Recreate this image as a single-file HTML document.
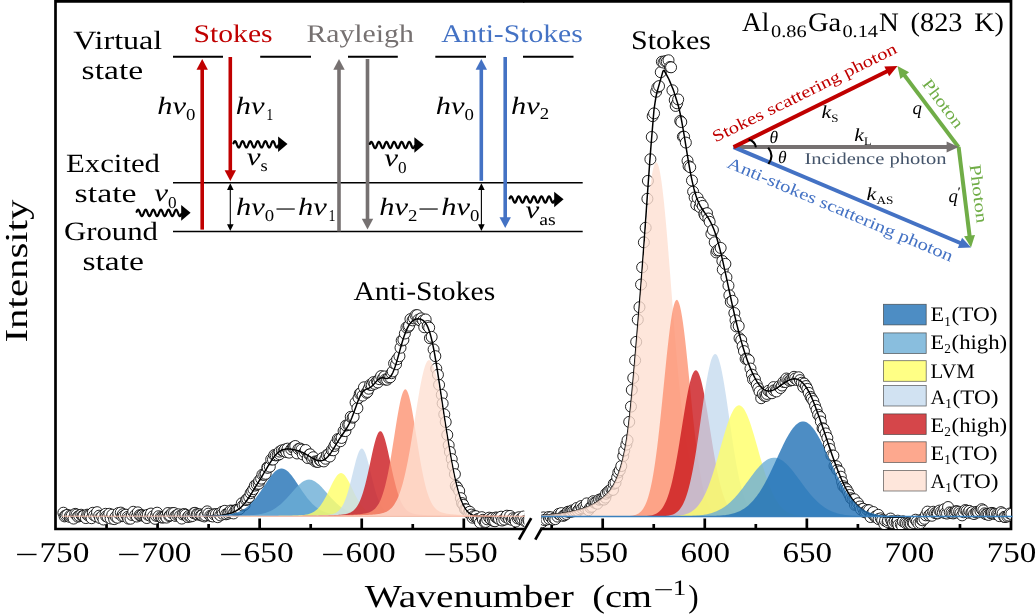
<!DOCTYPE html>
<html lang="en"><head><meta charset="utf-8"><title>Raman spectrum</title><style>html,body{margin:0;padding:0;background:#fff}svg{display:block}</style></head><body>
<svg width="1036" height="616" viewBox="0 0 1036 616" font-family='"Liberation Serif", "DejaVu Serif", serif' text-rendering="geometricPrecision" style="will-change:transform">
<rect x="0" y="0" width="1036" height="616" fill="#fff"/>
<defs>
<clipPath id="cl"><rect x="55.5" y="1.4" width="468.8" height="527.6"/></clipPath>
<clipPath id="cr"><rect x="541.1" y="1.4" width="469.9" height="527.6"/></clipPath>
</defs>
<g stroke="#000" stroke-width="2.7" fill="none">
<path d="M519,539.6 L531.2,518.2"/>
<path d="M535.3,539.6 L547.6,518"/>
</g>
<rect x="541.1" y="1.4" width="469.9" height="527.6" fill="#fff"/>
<g stroke="#000" stroke-width="2.7" fill="none" stroke-linecap="butt">
<path d="M524.3,529 L55.5,529 L55.5,1.4 L524.3,1.4"/>
<path d="M523.3,1.4 L1011,1.4 L1011,529 L541.1,529"/>
<path d="M106.54,529 V524"/>
<path d="M157.57,529 V518.5"/>
<path d="M208.61,529 V524"/>
<path d="M259.65,529 V518.5"/>
<path d="M310.69,529 V524"/>
<path d="M361.73,529 V518.5"/>
<path d="M412.76,529 V524"/>
<path d="M463.8,529 V518.5"/>
<path d="M514.84,529 V524"/>
<path d="M551.66,529 V524"/>
<path d="M602.7,529 V518.5"/>
<path d="M653.74,529 V524"/>
<path d="M704.77,529 V518.5"/>
<path d="M755.81,529 V524"/>
<path d="M806.85,529 V518.5"/>
<path d="M857.89,529 V524"/>
<path d="M908.92,529 V518.5"/>
<path d="M959.96,529 V524"/>
</g>
<g clip-path="url(#cl)">
<g fill="#fff" stroke="#000" stroke-width="0.85">
<circle cx="63.4" cy="512.72" r="5.5"/>
<circle cx="64.59" cy="516.39" r="5.5"/>
<circle cx="65.74" cy="515.54" r="5.5"/>
<circle cx="67.32" cy="514.9" r="5.5"/>
<circle cx="69.86" cy="516.95" r="5.5"/>
<circle cx="70.32" cy="515.6" r="5.5"/>
<circle cx="71.77" cy="515.6" r="5.5"/>
<circle cx="73.59" cy="518.59" r="5.5"/>
<circle cx="75.19" cy="513.87" r="5.5"/>
<circle cx="76.57" cy="514.58" r="5.5"/>
<circle cx="77.73" cy="516.67" r="5.5"/>
<circle cx="79.15" cy="515.9" r="5.5"/>
<circle cx="81.18" cy="514.74" r="5.5"/>
<circle cx="82.48" cy="516.05" r="5.5"/>
<circle cx="83.51" cy="516.02" r="5.5"/>
<circle cx="85.85" cy="518.08" r="5.5"/>
<circle cx="87.23" cy="514.66" r="5.5"/>
<circle cx="88.43" cy="515.4" r="5.5"/>
<circle cx="89.92" cy="515.14" r="5.5"/>
<circle cx="91.57" cy="518.21" r="5.5"/>
<circle cx="92.79" cy="512.8" r="5.5"/>
<circle cx="94.1" cy="515.35" r="5.5"/>
<circle cx="96.1" cy="516.27" r="5.5"/>
<circle cx="97.07" cy="512.16" r="5.5"/>
<circle cx="99.12" cy="515.69" r="5.5"/>
<circle cx="100.07" cy="518.09" r="5.5"/>
<circle cx="101.97" cy="516.31" r="5.5"/>
<circle cx="103.46" cy="519.52" r="5.5"/>
<circle cx="105.53" cy="513.83" r="5.5"/>
<circle cx="106.18" cy="516.33" r="5.5"/>
<circle cx="107.58" cy="516.89" r="5.5"/>
<circle cx="109.31" cy="513.79" r="5.5"/>
<circle cx="110.66" cy="518.44" r="5.5"/>
<circle cx="112.32" cy="514.71" r="5.5"/>
<circle cx="114.13" cy="519.14" r="5.5"/>
<circle cx="115.73" cy="516.75" r="5.5"/>
<circle cx="117.5" cy="517.68" r="5.5"/>
<circle cx="118.28" cy="513.13" r="5.5"/>
<circle cx="120.79" cy="512.61" r="5.5"/>
<circle cx="122.09" cy="516.19" r="5.5"/>
<circle cx="122.94" cy="514.19" r="5.5"/>
<circle cx="123.81" cy="515.93" r="5.5"/>
<circle cx="125.98" cy="514.66" r="5.5"/>
<circle cx="127.52" cy="516.91" r="5.5"/>
<circle cx="128.31" cy="518.54" r="5.5"/>
<circle cx="130.52" cy="518.7" r="5.5"/>
<circle cx="131.94" cy="514.97" r="5.5"/>
<circle cx="133.26" cy="511.79" r="5.5"/>
<circle cx="135.19" cy="515.16" r="5.5"/>
<circle cx="136.8" cy="516.52" r="5.5"/>
<circle cx="137.85" cy="512.36" r="5.5"/>
<circle cx="139.57" cy="515.21" r="5.5"/>
<circle cx="140.8" cy="515.44" r="5.5"/>
<circle cx="142.26" cy="515.18" r="5.5"/>
<circle cx="144.02" cy="515.84" r="5.5"/>
<circle cx="145.66" cy="516.14" r="5.5"/>
<circle cx="146.83" cy="518.05" r="5.5"/>
<circle cx="147.84" cy="514.75" r="5.5"/>
<circle cx="150.18" cy="515.76" r="5.5"/>
<circle cx="151.02" cy="513.56" r="5.5"/>
<circle cx="153.04" cy="516.23" r="5.5"/>
<circle cx="155.03" cy="518.84" r="5.5"/>
<circle cx="155.99" cy="515.76" r="5.5"/>
<circle cx="157.14" cy="512.69" r="5.5"/>
<circle cx="158.56" cy="516.24" r="5.5"/>
<circle cx="160.85" cy="517.11" r="5.5"/>
<circle cx="161.99" cy="517.62" r="5.5"/>
<circle cx="163.66" cy="517.38" r="5.5"/>
<circle cx="165.28" cy="516.1" r="5.5"/>
<circle cx="166.49" cy="517.6" r="5.5"/>
<circle cx="167.91" cy="513.03" r="5.5"/>
<circle cx="169.22" cy="516.06" r="5.5"/>
<circle cx="170.08" cy="515.39" r="5.5"/>
<circle cx="172.04" cy="513.12" r="5.5"/>
<circle cx="173.98" cy="513.01" r="5.5"/>
<circle cx="175.45" cy="515.93" r="5.5"/>
<circle cx="177.12" cy="515" r="5.5"/>
<circle cx="178.46" cy="514.31" r="5.5"/>
<circle cx="180.05" cy="515.89" r="5.5"/>
<circle cx="181.74" cy="518.58" r="5.5"/>
<circle cx="182.73" cy="514.43" r="5.5"/>
<circle cx="184.41" cy="514.01" r="5.5"/>
<circle cx="185.52" cy="514.82" r="5.5"/>
<circle cx="187.79" cy="517.09" r="5.5"/>
<circle cx="189.01" cy="515.84" r="5.5"/>
<circle cx="190.65" cy="516.5" r="5.5"/>
<circle cx="192.46" cy="515.99" r="5.5"/>
<circle cx="193.82" cy="513.25" r="5.5"/>
<circle cx="194.98" cy="512.83" r="5.5"/>
<circle cx="196.74" cy="514.28" r="5.5"/>
<circle cx="197.57" cy="514.46" r="5.5"/>
<circle cx="199.63" cy="514.22" r="5.5"/>
<circle cx="201.04" cy="515.36" r="5.5"/>
<circle cx="202.01" cy="515.44" r="5.5"/>
<circle cx="204.4" cy="516.43" r="5.5"/>
<circle cx="205.29" cy="515.34" r="5.5"/>
<circle cx="207.2" cy="511.35" r="5.5"/>
<circle cx="208.37" cy="513.68" r="5.5"/>
<circle cx="210.3" cy="515.7" r="5.5"/>
<circle cx="211.89" cy="515.87" r="5.5"/>
<circle cx="212.75" cy="516.47" r="5.5"/>
<circle cx="214.04" cy="514.28" r="5.5"/>
<circle cx="215.96" cy="514.16" r="5.5"/>
<circle cx="217.75" cy="517.19" r="5.5"/>
<circle cx="218.89" cy="513.75" r="5.5"/>
<circle cx="220.32" cy="515.4" r="5.5"/>
<circle cx="222.15" cy="511.79" r="5.5"/>
<circle cx="222.67" cy="513.75" r="5.5"/>
<circle cx="224.8" cy="510.82" r="5.5"/>
<circle cx="226.08" cy="514.27" r="5.5"/>
<circle cx="228.09" cy="513.66" r="5.5"/>
<circle cx="229.28" cy="512.27" r="5.5"/>
<circle cx="230.67" cy="510.54" r="5.5"/>
<circle cx="232.39" cy="510.89" r="5.5"/>
<circle cx="233.56" cy="513.43" r="5.5"/>
<circle cx="235.5" cy="510.3" r="5.5"/>
<circle cx="236.8" cy="509.78" r="5.5"/>
<circle cx="238.39" cy="509.62" r="5.5"/>
<circle cx="239.78" cy="508.89" r="5.5"/>
<circle cx="241.77" cy="503.33" r="5.5"/>
<circle cx="242.97" cy="505.59" r="5.5"/>
<circle cx="244.66" cy="504.68" r="5.5"/>
<circle cx="246.14" cy="500.09" r="5.5"/>
<circle cx="247.26" cy="498.92" r="5.5"/>
<circle cx="249.17" cy="497.08" r="5.5"/>
<circle cx="250.6" cy="493.19" r="5.5"/>
<circle cx="252.09" cy="491.34" r="5.5"/>
<circle cx="253.38" cy="489.16" r="5.5"/>
<circle cx="254.87" cy="485.57" r="5.5"/>
<circle cx="256.74" cy="484.43" r="5.5"/>
<circle cx="258.65" cy="483.73" r="5.5"/>
<circle cx="259.25" cy="480.79" r="5.5"/>
<circle cx="261.16" cy="478.64" r="5.5"/>
<circle cx="262.39" cy="474.7" r="5.5"/>
<circle cx="264.24" cy="474.77" r="5.5"/>
<circle cx="265.63" cy="473.78" r="5.5"/>
<circle cx="267.32" cy="467.36" r="5.5"/>
<circle cx="267.66" cy="467.79" r="5.5"/>
<circle cx="269.82" cy="466.65" r="5.5"/>
<circle cx="271.2" cy="459.48" r="5.5"/>
<circle cx="272.97" cy="459.57" r="5.5"/>
<circle cx="274.28" cy="455.02" r="5.5"/>
<circle cx="275.81" cy="455.43" r="5.5"/>
<circle cx="277.7" cy="455.17" r="5.5"/>
<circle cx="279.57" cy="454.18" r="5.5"/>
<circle cx="279.65" cy="451.62" r="5.5"/>
<circle cx="281.91" cy="450.35" r="5.5"/>
<circle cx="283.59" cy="451.02" r="5.5"/>
<circle cx="285" cy="449.51" r="5.5"/>
<circle cx="286.4" cy="452.07" r="5.5"/>
<circle cx="287.59" cy="448.65" r="5.5"/>
<circle cx="289.22" cy="452.64" r="5.5"/>
<circle cx="291.22" cy="449.3" r="5.5"/>
<circle cx="292.82" cy="447.57" r="5.5"/>
<circle cx="294.03" cy="446.99" r="5.5"/>
<circle cx="295.25" cy="445.99" r="5.5"/>
<circle cx="297.03" cy="453.47" r="5.5"/>
<circle cx="298.43" cy="448.95" r="5.5"/>
<circle cx="300.16" cy="448.53" r="5.5"/>
<circle cx="301.54" cy="449.64" r="5.5"/>
<circle cx="302.81" cy="454.43" r="5.5"/>
<circle cx="304.56" cy="452.3" r="5.5"/>
<circle cx="305.65" cy="450.02" r="5.5"/>
<circle cx="307.75" cy="458.05" r="5.5"/>
<circle cx="309.35" cy="454.75" r="5.5"/>
<circle cx="310.15" cy="454.32" r="5.5"/>
<circle cx="312.13" cy="459.05" r="5.5"/>
<circle cx="313.2" cy="457.21" r="5.5"/>
<circle cx="315.32" cy="461.44" r="5.5"/>
<circle cx="316.77" cy="461.52" r="5.5"/>
<circle cx="317.93" cy="461.97" r="5.5"/>
<circle cx="319.8" cy="460.08" r="5.5"/>
<circle cx="320.87" cy="460.63" r="5.5"/>
<circle cx="322.31" cy="458.1" r="5.5"/>
<circle cx="323.83" cy="461.42" r="5.5"/>
<circle cx="325.46" cy="458.74" r="5.5"/>
<circle cx="326.9" cy="455.14" r="5.5"/>
<circle cx="328.55" cy="454.38" r="5.5"/>
<circle cx="329.82" cy="456.52" r="5.5"/>
<circle cx="331.73" cy="450.14" r="5.5"/>
<circle cx="333.31" cy="450.3" r="5.5"/>
<circle cx="334.35" cy="445.97" r="5.5"/>
<circle cx="335.57" cy="443.65" r="5.5"/>
<circle cx="337.72" cy="439.1" r="5.5"/>
<circle cx="339.34" cy="439.12" r="5.5"/>
<circle cx="340.45" cy="441.24" r="5.5"/>
<circle cx="341.61" cy="437.95" r="5.5"/>
<circle cx="343.58" cy="431.01" r="5.5"/>
<circle cx="345.46" cy="431.08" r="5.5"/>
<circle cx="345.94" cy="425.53" r="5.5"/>
<circle cx="348.14" cy="424.95" r="5.5"/>
<circle cx="349.41" cy="424.46" r="5.5"/>
<circle cx="350.74" cy="416.83" r="5.5"/>
<circle cx="352.65" cy="417.69" r="5.5"/>
<circle cx="353.61" cy="416.76" r="5.5"/>
<circle cx="355.59" cy="402.52" r="5.5"/>
<circle cx="357.39" cy="408.19" r="5.5"/>
<circle cx="358.55" cy="397.91" r="5.5"/>
<circle cx="359.74" cy="393.68" r="5.5"/>
<circle cx="360.97" cy="392.91" r="5.5"/>
<circle cx="362.62" cy="395.6" r="5.5"/>
<circle cx="363.95" cy="387.29" r="5.5"/>
<circle cx="366.48" cy="392.79" r="5.5"/>
<circle cx="367.43" cy="391.91" r="5.5"/>
<circle cx="368.69" cy="388.71" r="5.5"/>
<circle cx="370.11" cy="384.85" r="5.5"/>
<circle cx="371.68" cy="384.96" r="5.5"/>
<circle cx="373.4" cy="382.16" r="5.5"/>
<circle cx="374.62" cy="383.8" r="5.5"/>
<circle cx="377" cy="381.4" r="5.5"/>
<circle cx="377.78" cy="382.46" r="5.5"/>
<circle cx="379.27" cy="379.15" r="5.5"/>
<circle cx="381.09" cy="376.09" r="5.5"/>
<circle cx="382.94" cy="378.32" r="5.5"/>
<circle cx="384.4" cy="376.45" r="5.5"/>
<circle cx="385.35" cy="379.56" r="5.5"/>
<circle cx="387.08" cy="379.73" r="5.5"/>
<circle cx="388.54" cy="377.69" r="5.5"/>
<circle cx="390.16" cy="377.25" r="5.5"/>
<circle cx="391.58" cy="373.2" r="5.5"/>
<circle cx="392.72" cy="371.44" r="5.5"/>
<circle cx="394.12" cy="363.39" r="5.5"/>
<circle cx="396.05" cy="364.25" r="5.5"/>
<circle cx="397.14" cy="359.22" r="5.5"/>
<circle cx="399.41" cy="356.17" r="5.5"/>
<circle cx="400.51" cy="347.74" r="5.5"/>
<circle cx="401.69" cy="340.57" r="5.5"/>
<circle cx="403.4" cy="339.88" r="5.5"/>
<circle cx="404.85" cy="333.51" r="5.5"/>
<circle cx="406.46" cy="327.48" r="5.5"/>
<circle cx="408.28" cy="326.93" r="5.5"/>
<circle cx="409.07" cy="325.64" r="5.5"/>
<circle cx="410.44" cy="319.14" r="5.5"/>
<circle cx="412.6" cy="320.36" r="5.5"/>
<circle cx="413.95" cy="318.4" r="5.5"/>
<circle cx="415.55" cy="315.34" r="5.5"/>
<circle cx="417.13" cy="315.08" r="5.5"/>
<circle cx="418.45" cy="319.62" r="5.5"/>
<circle cx="420.24" cy="320.37" r="5.5"/>
<circle cx="421.23" cy="318.36" r="5.5"/>
<circle cx="423.02" cy="320.49" r="5.5"/>
<circle cx="424.25" cy="327.22" r="5.5"/>
<circle cx="425.66" cy="319.46" r="5.5"/>
<circle cx="427.68" cy="326.06" r="5.5"/>
<circle cx="429.17" cy="327.64" r="5.5"/>
<circle cx="429.92" cy="338.17" r="5.5"/>
<circle cx="431.66" cy="336.89" r="5.5"/>
<circle cx="433.59" cy="349.45" r="5.5"/>
<circle cx="435.32" cy="356.15" r="5.5"/>
<circle cx="436.3" cy="368.64" r="5.5"/>
<circle cx="437.94" cy="374.77" r="5.5"/>
<circle cx="439.08" cy="384.87" r="5.5"/>
<circle cx="441.75" cy="394.86" r="5.5"/>
<circle cx="442.64" cy="403.43" r="5.5"/>
<circle cx="444.27" cy="414.38" r="5.5"/>
<circle cx="445.7" cy="422.03" r="5.5"/>
<circle cx="447.28" cy="434.91" r="5.5"/>
<circle cx="448.68" cy="445.27" r="5.5"/>
<circle cx="449.9" cy="451.99" r="5.5"/>
<circle cx="451.72" cy="459.09" r="5.5"/>
<circle cx="453.02" cy="465.84" r="5.5"/>
<circle cx="454.89" cy="474.13" r="5.5"/>
<circle cx="455.78" cy="485.87" r="5.5"/>
<circle cx="457.34" cy="487.73" r="5.5"/>
<circle cx="459.2" cy="490.99" r="5.5"/>
<circle cx="460.88" cy="498.14" r="5.5"/>
<circle cx="462.04" cy="503.08" r="5.5"/>
<circle cx="463.29" cy="504.91" r="5.5"/>
<circle cx="464.96" cy="509.13" r="5.5"/>
<circle cx="466.35" cy="509.47" r="5.5"/>
<circle cx="468.57" cy="512.56" r="5.5"/>
<circle cx="469.77" cy="511.76" r="5.5"/>
<circle cx="471.38" cy="514.6" r="5.5"/>
<circle cx="472.59" cy="517.69" r="5.5"/>
<circle cx="473.83" cy="516.19" r="5.5"/>
<circle cx="475.85" cy="516.16" r="5.5"/>
<circle cx="477.5" cy="519.12" r="5.5"/>
<circle cx="478.67" cy="519.14" r="5.5"/>
<circle cx="479.99" cy="522.55" r="5.5"/>
<circle cx="481.82" cy="517.17" r="5.5"/>
<circle cx="482.89" cy="519.82" r="5.5"/>
<circle cx="484.73" cy="522.52" r="5.5"/>
<circle cx="485.79" cy="521.96" r="5.5"/>
<circle cx="487.21" cy="519.34" r="5.5"/>
<circle cx="489.17" cy="517.66" r="5.5"/>
<circle cx="490.6" cy="519.13" r="5.5"/>
<circle cx="492.57" cy="518.17" r="5.5"/>
<circle cx="493.42" cy="520.87" r="5.5"/>
<circle cx="495.01" cy="521.27" r="5.5"/>
<circle cx="496.16" cy="517.43" r="5.5"/>
<circle cx="497.44" cy="518.09" r="5.5"/>
<circle cx="498.97" cy="518.97" r="5.5"/>
<circle cx="501.14" cy="516.7" r="5.5"/>
<circle cx="502.15" cy="520.52" r="5.5"/>
<circle cx="504.34" cy="519.6" r="5.5"/>
<circle cx="505.93" cy="517.1" r="5.5"/>
<circle cx="506.91" cy="515.69" r="5.5"/>
<circle cx="509" cy="518.82" r="5.5"/>
<circle cx="510.07" cy="515.94" r="5.5"/>
<circle cx="511.84" cy="519.85" r="5.5"/>
<circle cx="512.93" cy="518.25" r="5.5"/>
<circle cx="514.79" cy="519.11" r="5.5"/>
<circle cx="515.72" cy="521.55" r="5.5"/>
<circle cx="517.69" cy="518.38" r="5.5"/>
<circle cx="518.86" cy="517.24" r="5.5"/>
<circle cx="520.46" cy="519.11" r="5.5"/>
<circle cx="522.19" cy="519" r="5.5"/>
<circle cx="523.55" cy="516.51" r="5.5"/>
<circle cx="524.98" cy="521.07" r="5.5"/>
<circle cx="526.72" cy="521.53" r="5.5"/>
<circle cx="528.24" cy="520.1" r="5.5"/>
<circle cx="529.08" cy="521.06" r="5.5"/>
</g>
<path d="M205,516.25 L206,516.23 L207,516.2 L208,516.17 L209,516.14 L210,516.1 L211,516.06 L212,516.02 L213,515.97 L214,515.92 L215,515.86 L216,515.79 L217,515.71 L218,515.62 L219,515.51 L220,515.4 L221,515.27 L222,515.12 L223,514.96 L224,514.78 L225,514.58 L226,514.37 L227,514.14 L228,513.88 L229,513.6 L230,513.3 L231,512.98 L232,512.62 L233,512.23 L234,511.81 L235,511.34 L236,510.83 L237,510.26 L238,509.62 L239,508.91 L240,508.13 L241,507.26 L242,506.29 L243,505.24 L244,504.1 L245,502.88 L246,501.57 L247,500.19 L248,498.75 L249,497.26 L250,495.72 L251,494.16 L252,492.56 L253,490.95 L254,489.33 L255,487.71 L256,486.09 L257,484.46 L258,482.83 L259,481.2 L260,479.56 L261,477.92 L262,476.26 L263,474.59 L264,472.9 L265,471.22 L266,469.53 L267,467.84 L268,466.17 L269,464.51 L270,462.9 L271,461.32 L272,459.81 L273,458.37 L274,457.01 L275,455.75 L276,454.59 L277,453.55 L278,452.62 L279,451.81 L280,451.11 L281,450.53 L282,450.06 L283,449.68 L284,449.4 L285,449.2 L286,449.07 L287,449 L288,448.99 L289,449.01 L290,449.08 L291,449.18 L292,449.31 L293,449.47 L294,449.66 L295,449.88 L296,450.13 L297,450.41 L298,450.72 L299,451.06 L300,451.43 L301,451.83 L302,452.27 L303,452.73 L304,453.23 L305,453.75 L306,454.3 L307,454.87 L308,455.46 L309,456.06 L310,456.67 L311,457.28 L312,457.88 L313,458.46 L314,459 L315,459.49 L316,459.93 L317,460.29 L318,460.56 L319,460.74 L320,460.8 L321,460.74 L322,460.55 L323,460.22 L324,459.75 L325,459.13 L326,458.37 L327,457.47 L328,456.44 L329,455.27 L330,453.99 L331,452.6 L332,451.12 L333,449.56 L334,447.94 L335,446.28 L336,444.61 L337,442.94 L338,441.29 L339,439.68 L340,438.12 L341,436.61 L342,435.14 L343,433.7 L344,432.26 L345,430.79 L346,429.26 L347,427.64 L348,425.89 L349,424 L350,421.94 L351,419.71 L352,417.31 L353,414.75 L354,412.07 L355,409.3 L356,406.5 L357,403.73 L358,401.07 L359,398.59 L360,396.36 L361,394.43 L362,392.83 L363,391.56 L364,390.6 L365,389.89 L366,389.35 L367,388.92 L368,388.51 L369,388.06 L370,387.52 L371,386.86 L372,386.05 L373,385.1 L374,384.05 L375,382.93 L376,381.79 L377,380.71 L378,379.74 L379,378.93 L380,378.34 L381,377.97 L382,377.83 L383,377.86 L384,378.02 L385,378.23 L386,378.4 L387,378.45 L388,378.28 L389,377.83 L390,377.03 L391,375.84 L392,374.24 L393,372.22 L394,369.8 L395,367.03 L396,363.94 L397,360.62 L398,357.12 L399,353.52 L400,349.9 L401,346.32 L402,342.86 L403,339.57 L404,336.49 L405,333.66 L406,331.11 L407,328.84 L408,326.85 L409,325.13 L410,323.66 L411,322.42 L412,321.39 L413,320.57 L414,319.92 L415,319.44 L416,319.1 L417,318.91 L418,318.84 L419,318.88 L420,319.05 L421,319.34 L422,319.77 L423,320.38 L424,321.2 L425,322.27 L426,323.65 L427,325.39 L428,327.55 L429,330.16 L430,333.25 L431,336.85 L432,340.96 L433,345.57 L434,350.64 L435,356.14 L436,362.01 L437,368.19 L438,374.62 L439,381.22 L440,387.93 L441,394.69 L442,401.45 L443,408.17 L444,414.82 L445,421.38 L446,427.82 L447,434.14 L448,440.33 L449,446.37 L450,452.24 L451,457.93 L452,463.41 L453,468.66 L454,473.64 L455,478.34 L456,482.73 L457,486.79 L458,490.53 L459,493.94 L460,497.02 L461,499.8 L462,502.28 L463,504.49 L464,506.43 L465,508.13 L466,509.61 L467,510.88 L468,511.95 L469,512.86 L470,513.62 L471,514.23 L472,514.74 L473,515.14 L474,515.46 L475,515.72 L476,515.92 L477,516.07 L478,516.2 L479,516.3 L480,516.38 L481,516.45 L482,516.5 L483,516.55 L484,516.58 L485,516.61 L486,516.64 L487,516.65 L488,516.67 L489,516.68 L490,516.68 L491,516.68 L492,516.68" fill="none" stroke="#000" stroke-width="1.5" stroke-linejoin="round"/>
<path d="M90,516.18 L91,516.18 L92,516.18 L93,516.18 L94,516.17 L95,516.17 L96,516.17 L97,516.17 L98,516.17 L99,516.17 L100,516.17 L101,516.16 L102,516.16 L103,516.16 L104,516.16 L105,516.16 L106,516.16 L107,516.15 L108,516.15 L109,516.15 L110,516.15 L111,516.15 L112,516.15 L113,516.14 L114,516.14 L115,516.14 L116,516.14 L117,516.14 L118,516.14 L119,516.13 L120,516.13 L121,516.13 L122,516.13 L123,516.12 L124,516.12 L125,516.12 L126,516.12 L127,516.12 L128,516.11 L129,516.11 L130,516.11 L131,516.11 L132,516.1 L133,516.1 L134,516.1 L135,516.1 L136,516.09 L137,516.09 L138,516.09 L139,516.08 L140,516.08 L141,516.08 L142,516.07 L143,516.07 L144,516.07 L145,516.07 L146,516.06 L147,516.06 L148,516.05 L149,516.05 L150,516.05 L151,516.04 L152,516.04 L153,516.04 L154,516.03 L155,516.03 L156,516.02 L157,516.02 L158,516.01 L159,516.01 L160,516.01 L161,516 L162,516 L163,515.99 L164,515.99 L165,515.98 L166,515.98 L167,515.97 L168,515.96 L169,515.96 L170,515.95 L171,515.95 L172,515.94 L173,515.93 L174,515.93 L175,515.92 L176,515.91 L177,515.91 L178,515.9 L179,515.89 L180,515.88 L181,515.88 L182,515.87 L183,515.86 L184,515.85 L185,515.84 L186,515.83 L187,515.82 L188,515.81 L189,515.8 L190,515.79 L191,515.78 L192,515.77 L193,515.76 L194,515.75 L195,515.74 L196,515.72 L197,515.71 L198,515.7 L199,515.68 L200,515.67 L201,515.65 L202,515.64 L203,515.62 L204,515.6 L205,515.58 L206,515.56 L207,515.54 L208,515.52 L209,515.5 L210,515.48 L211,515.45 L212,515.42 L213,515.39 L214,515.36 L215,515.33 L216,515.29 L217,515.25 L218,515.2 L219,515.16 L220,515.1 L221,515.04 L222,514.98 L223,514.9 L224,514.82 L225,514.73 L226,514.63 L227,514.52 L228,514.4 L229,514.26 L230,514.1 L231,513.93 L232,513.74 L233,513.52 L234,513.29 L235,513.03 L236,512.74 L237,512.42 L238,512.06 L239,511.67 L240,511.25 L241,510.78 L242,510.27 L243,509.72 L244,509.12 L245,508.46 L246,507.76 L247,507 L248,506.19 L249,505.32 L250,504.4 L251,503.41 L252,502.37 L253,501.28 L254,500.12 L255,498.92 L256,497.66 L257,496.35 L258,494.99 L259,493.6 L260,492.16 L261,490.7 L262,489.21 L263,487.7 L264,486.19 L265,484.67 L266,483.16 L267,481.66 L268,480.2 L269,478.77 L270,477.39 L271,476.06 L272,474.81 L273,473.65 L274,472.57 L275,471.6 L276,470.75 L277,470.02 L278,469.43 L279,468.98 L280,468.67 L281,468.52 L282,468.52 L283,468.67 L284,468.98 L285,469.43 L286,470.02 L287,470.75 L288,471.6 L289,472.57 L290,473.65 L291,474.81 L292,476.06 L293,477.39 L294,478.77 L295,480.2 L296,481.66 L297,483.16 L298,484.67 L299,486.19 L300,487.7 L301,489.21 L302,490.7 L303,492.16 L304,493.6 L305,494.99 L306,496.35 L307,497.66 L308,498.92 L309,500.12 L310,501.28 L311,502.37 L312,503.41 L313,504.4 L314,505.32 L315,506.19 L316,507 L317,507.76 L318,508.46 L319,509.12 L320,509.72 L321,510.27 L322,510.78 L323,511.25 L324,511.67 L325,512.06 L326,512.42 L327,512.74 L328,513.03 L329,513.29 L330,513.52 L331,513.74 L332,513.93 L333,514.1 L334,514.26 L335,514.4 L336,514.52 L337,514.63 L338,514.73 L339,514.82 L340,514.9 L341,514.98 L342,515.04 L343,515.1 L344,515.16 L345,515.2 L346,515.25 L347,515.29 L348,515.33 L349,515.36 L350,515.39 L351,515.42 L352,515.45 L353,515.48 L354,515.5 L355,515.52 L356,515.54 L357,515.56 L358,515.58 L359,515.6 L360,515.62 L361,515.64 L362,515.65 L363,515.67 L364,515.68 L365,515.7 L366,515.71 L367,515.72 L368,515.74 L369,515.75 L370,515.76 L371,515.77 L372,515.78 L373,515.79 L374,515.8 L375,515.81 L376,515.82 L377,515.83 L378,515.84 L379,515.85 L380,515.86 L381,515.87 L382,515.88 L383,515.88 L384,515.89 L385,515.9 L386,515.91 L387,515.91 L388,515.92 L389,515.93 L390,515.93 L391,515.94 L392,515.95 L393,515.95 L394,515.96 L395,515.96 L396,515.97 L397,515.98 L398,515.98 L399,515.99 L400,515.99 L401,516 L402,516 L403,516.01 L404,516.01 L405,516.01 L406,516.02 L407,516.02 L408,516.03 L409,516.03 L410,516.04 L411,516.04 L412,516.04 L413,516.05 L414,516.05 L415,516.05 L416,516.06 L417,516.06 L418,516.07 L419,516.07 L420,516.07 L421,516.07 L422,516.08 L423,516.08 L424,516.08 L425,516.09 L426,516.09 L427,516.09 L428,516.1 L429,516.1 L430,516.1 L431,516.1 L432,516.11 L433,516.11 L434,516.11 L435,516.11 L436,516.12 L437,516.12 L438,516.12 L439,516.12 L440,516.12 L441,516.13 L442,516.13 L443,516.13 L444,516.13 L445,516.14 L446,516.14 L447,516.14 L448,516.14 L449,516.14 L450,516.14 L451,516.15 L452,516.15 L453,516.15 L454,516.15 L455,516.15 L456,516.15 L457,516.16 L458,516.16 L459,516.16 L460,516.16 L461,516.16 L462,516.16 L463,516.17 L464,516.17 L465,516.17 L466,516.17 L467,516.17 L468,516.17 L469,516.17 L470,516.18 L471,516.18 L472,516.18 L473,516.18 L473,516.3 L90,516.3 Z" fill="#2171b5" fill-opacity="0.8"/>
<path d="M138,516.18 L139,516.18 L140,516.18 L141,516.17 L142,516.17 L143,516.17 L144,516.17 L145,516.17 L146,516.17 L147,516.17 L148,516.16 L149,516.16 L150,516.16 L151,516.16 L152,516.16 L153,516.16 L154,516.15 L155,516.15 L156,516.15 L157,516.15 L158,516.15 L159,516.14 L160,516.14 L161,516.14 L162,516.14 L163,516.14 L164,516.13 L165,516.13 L166,516.13 L167,516.13 L168,516.12 L169,516.12 L170,516.12 L171,516.12 L172,516.11 L173,516.11 L174,516.11 L175,516.11 L176,516.1 L177,516.1 L178,516.1 L179,516.09 L180,516.09 L181,516.09 L182,516.08 L183,516.08 L184,516.08 L185,516.07 L186,516.07 L187,516.07 L188,516.06 L189,516.06 L190,516.05 L191,516.05 L192,516.05 L193,516.04 L194,516.04 L195,516.03 L196,516.03 L197,516.02 L198,516.02 L199,516.01 L200,516.01 L201,516 L202,516 L203,515.99 L204,515.99 L205,515.98 L206,515.98 L207,515.97 L208,515.96 L209,515.96 L210,515.95 L211,515.94 L212,515.94 L213,515.93 L214,515.92 L215,515.92 L216,515.91 L217,515.9 L218,515.89 L219,515.88 L220,515.87 L221,515.86 L222,515.85 L223,515.84 L224,515.83 L225,515.82 L226,515.81 L227,515.8 L228,515.79 L229,515.78 L230,515.76 L231,515.75 L232,515.73 L233,515.72 L234,515.7 L235,515.69 L236,515.67 L237,515.65 L238,515.63 L239,515.61 L240,515.58 L241,515.56 L242,515.53 L243,515.5 L244,515.47 L245,515.43 L246,515.39 L247,515.35 L248,515.3 L249,515.25 L250,515.19 L251,515.12 L252,515.05 L253,514.97 L254,514.88 L255,514.78 L256,514.67 L257,514.55 L258,514.41 L259,514.26 L260,514.09 L261,513.9 L262,513.7 L263,513.47 L264,513.22 L265,512.95 L266,512.65 L267,512.32 L268,511.96 L269,511.57 L270,511.14 L271,510.68 L272,510.18 L273,509.65 L274,509.07 L275,508.46 L276,507.8 L277,507.1 L278,506.36 L279,505.57 L280,504.75 L281,503.88 L282,502.97 L283,502.03 L284,501.05 L285,500.03 L286,498.99 L287,497.91 L288,496.81 L289,495.7 L290,494.57 L291,493.43 L292,492.29 L293,491.15 L294,490.03 L295,488.92 L296,487.83 L297,486.78 L298,485.77 L299,484.81 L300,483.91 L301,483.07 L302,482.31 L303,481.62 L304,481.03 L305,480.53 L306,480.14 L307,479.85 L308,479.67 L309,479.6 L310,479.65 L311,479.8 L312,480.07 L313,480.45 L314,480.92 L315,481.5 L316,482.16 L317,482.91 L318,483.73 L319,484.62 L320,485.57 L321,486.58 L322,487.62 L323,488.7 L324,489.8 L325,490.93 L326,492.06 L327,493.2 L328,494.34 L329,495.47 L330,496.59 L331,497.69 L332,498.77 L333,499.82 L334,500.85 L335,501.84 L336,502.79 L337,503.7 L338,504.58 L339,505.41 L340,506.21 L341,506.96 L342,507.66 L343,508.33 L344,508.95 L345,509.54 L346,510.08 L347,510.58 L348,511.05 L349,511.48 L350,511.88 L351,512.25 L352,512.58 L353,512.89 L354,513.17 L355,513.42 L356,513.66 L357,513.87 L358,514.05 L359,514.23 L360,514.38 L361,514.52 L362,514.65 L363,514.76 L364,514.86 L365,514.95 L366,515.03 L367,515.11 L368,515.17 L369,515.23 L370,515.29 L371,515.34 L372,515.38 L373,515.42 L374,515.46 L375,515.49 L376,515.52 L377,515.55 L378,515.58 L379,515.6 L380,515.62 L381,515.64 L382,515.66 L383,515.68 L384,515.7 L385,515.72 L386,515.73 L387,515.75 L388,515.76 L389,515.77 L390,515.79 L391,515.8 L392,515.81 L393,515.82 L394,515.83 L395,515.84 L396,515.85 L397,515.86 L398,515.87 L399,515.88 L400,515.89 L401,515.9 L402,515.91 L403,515.91 L404,515.92 L405,515.93 L406,515.94 L407,515.94 L408,515.95 L409,515.96 L410,515.96 L411,515.97 L412,515.98 L413,515.98 L414,515.99 L415,515.99 L416,516 L417,516 L418,516.01 L419,516.01 L420,516.02 L421,516.02 L422,516.03 L423,516.03 L424,516.04 L425,516.04 L426,516.05 L427,516.05 L428,516.05 L429,516.06 L430,516.06 L431,516.07 L432,516.07 L433,516.07 L434,516.08 L435,516.08 L436,516.08 L437,516.09 L438,516.09 L439,516.09 L440,516.1 L441,516.1 L442,516.1 L443,516.1 L444,516.11 L445,516.11 L446,516.11 L447,516.12 L448,516.12 L449,516.12 L450,516.12 L451,516.13 L452,516.13 L453,516.13 L454,516.13 L455,516.13 L456,516.14 L457,516.14 L458,516.14 L459,516.14 L460,516.15 L461,516.15 L462,516.15 L463,516.15 L464,516.15 L465,516.15 L466,516.16 L467,516.16 L468,516.16 L469,516.16 L470,516.16 L471,516.17 L472,516.17 L473,516.17 L474,516.17 L475,516.17 L476,516.17 L477,516.17 L478,516.18 L479,516.18 L480,516.18 L480,516.3 L138,516.3 Z" fill="#6baed6" fill-opacity="0.8"/>
<path d="M222,516.18 L223,516.18 L224,516.18 L225,516.17 L226,516.17 L227,516.17 L228,516.17 L229,516.16 L230,516.16 L231,516.16 L232,516.16 L233,516.15 L234,516.15 L235,516.15 L236,516.15 L237,516.14 L238,516.14 L239,516.14 L240,516.13 L241,516.13 L242,516.13 L243,516.12 L244,516.12 L245,516.12 L246,516.11 L247,516.11 L248,516.11 L249,516.1 L250,516.1 L251,516.09 L252,516.09 L253,516.08 L254,516.08 L255,516.07 L256,516.07 L257,516.06 L258,516.06 L259,516.05 L260,516.04 L261,516.04 L262,516.03 L263,516.03 L264,516.02 L265,516.01 L266,516 L267,516 L268,515.99 L269,515.98 L270,515.97 L271,515.96 L272,515.95 L273,515.94 L274,515.93 L275,515.92 L276,515.91 L277,515.9 L278,515.89 L279,515.87 L280,515.86 L281,515.85 L282,515.83 L283,515.82 L284,515.8 L285,515.78 L286,515.76 L287,515.75 L288,515.72 L289,515.7 L290,515.68 L291,515.66 L292,515.63 L293,515.6 L294,515.57 L295,515.53 L296,515.49 L297,515.45 L298,515.4 L299,515.35 L300,515.28 L301,515.21 L302,515.12 L303,515.02 L304,514.9 L305,514.76 L306,514.6 L307,514.4 L308,514.17 L309,513.9 L310,513.59 L311,513.21 L312,512.78 L313,512.27 L314,511.69 L315,511.03 L316,510.26 L317,509.4 L318,508.43 L319,507.34 L320,506.13 L321,504.81 L322,503.36 L323,501.79 L324,500.1 L325,498.31 L326,496.42 L327,494.44 L328,492.4 L329,490.32 L330,488.22 L331,486.12 L332,484.07 L333,482.08 L334,480.21 L335,478.48 L336,476.94 L337,475.61 L338,474.54 L339,473.75 L340,473.26 L341,473.1 L342,473.26 L343,473.75 L344,474.54 L345,475.61 L346,476.94 L347,478.48 L348,480.21 L349,482.08 L350,484.07 L351,486.12 L352,488.22 L353,490.32 L354,492.4 L355,494.44 L356,496.42 L357,498.31 L358,500.1 L359,501.79 L360,503.36 L361,504.81 L362,506.13 L363,507.34 L364,508.43 L365,509.4 L366,510.26 L367,511.03 L368,511.69 L369,512.27 L370,512.78 L371,513.21 L372,513.59 L373,513.9 L374,514.17 L375,514.4 L376,514.6 L377,514.76 L378,514.9 L379,515.02 L380,515.12 L381,515.21 L382,515.28 L383,515.35 L384,515.4 L385,515.45 L386,515.49 L387,515.53 L388,515.57 L389,515.6 L390,515.63 L391,515.66 L392,515.68 L393,515.7 L394,515.72 L395,515.75 L396,515.76 L397,515.78 L398,515.8 L399,515.82 L400,515.83 L401,515.85 L402,515.86 L403,515.87 L404,515.89 L405,515.9 L406,515.91 L407,515.92 L408,515.93 L409,515.94 L410,515.95 L411,515.96 L412,515.97 L413,515.98 L414,515.99 L415,516 L416,516 L417,516.01 L418,516.02 L419,516.03 L420,516.03 L421,516.04 L422,516.04 L423,516.05 L424,516.06 L425,516.06 L426,516.07 L427,516.07 L428,516.08 L429,516.08 L430,516.09 L431,516.09 L432,516.1 L433,516.1 L434,516.11 L435,516.11 L436,516.11 L437,516.12 L438,516.12 L439,516.12 L440,516.13 L441,516.13 L442,516.13 L443,516.14 L444,516.14 L445,516.14 L446,516.15 L447,516.15 L448,516.15 L449,516.15 L450,516.16 L451,516.16 L452,516.16 L453,516.16 L454,516.17 L455,516.17 L456,516.17 L457,516.17 L458,516.18 L459,516.18 L460,516.18 L460,516.3 L222,516.3 Z" fill="#ffff66" fill-opacity="0.8"/>
<path d="M243,516.18 L244,516.18 L245,516.17 L246,516.17 L247,516.17 L248,516.17 L249,516.17 L250,516.16 L251,516.16 L252,516.16 L253,516.16 L254,516.15 L255,516.15 L256,516.15 L257,516.14 L258,516.14 L259,516.14 L260,516.13 L261,516.13 L262,516.13 L263,516.12 L264,516.12 L265,516.12 L266,516.11 L267,516.11 L268,516.11 L269,516.1 L270,516.1 L271,516.09 L272,516.09 L273,516.08 L274,516.08 L275,516.07 L276,516.07 L277,516.06 L278,516.06 L279,516.05 L280,516.05 L281,516.04 L282,516.03 L283,516.03 L284,516.02 L285,516.01 L286,516.01 L287,516 L288,515.99 L289,515.98 L290,515.97 L291,515.96 L292,515.95 L293,515.94 L294,515.93 L295,515.92 L296,515.91 L297,515.9 L298,515.89 L299,515.87 L300,515.86 L301,515.85 L302,515.83 L303,515.82 L304,515.8 L305,515.78 L306,515.77 L307,515.75 L308,515.73 L309,515.71 L310,515.68 L311,515.66 L312,515.64 L313,515.61 L314,515.58 L315,515.55 L316,515.52 L317,515.49 L318,515.45 L319,515.41 L320,515.37 L321,515.33 L322,515.28 L323,515.22 L324,515.16 L325,515.1 L326,515.02 L327,514.93 L328,514.83 L329,514.7 L330,514.55 L331,514.37 L332,514.16 L333,513.89 L334,513.56 L335,513.15 L336,512.65 L337,512.04 L338,511.29 L339,510.39 L340,509.31 L341,508.02 L342,506.5 L343,504.73 L344,502.68 L345,500.34 L346,497.71 L347,494.78 L348,491.55 L349,488.06 L350,484.33 L351,480.4 L352,476.35 L353,472.22 L354,468.12 L355,464.14 L356,460.37 L357,456.95 L358,453.96 L359,451.54 L360,449.78 L361,448.76 L362,448.52 L363,449.07 L364,450.4 L365,452.44 L366,455.1 L367,458.27 L368,461.85 L369,465.71 L370,469.76 L371,473.88 L372,477.98 L373,481.99 L374,485.85 L375,489.49 L376,492.88 L377,495.99 L378,498.8 L379,501.31 L380,503.53 L381,505.47 L382,507.14 L383,508.56 L384,509.77 L385,510.77 L386,511.61 L387,512.3 L388,512.86 L389,513.32 L390,513.7 L391,514 L392,514.25 L393,514.45 L394,514.62 L395,514.75 L396,514.87 L397,514.97 L398,515.05 L399,515.12 L400,515.19 L401,515.25 L402,515.3 L403,515.35 L404,515.39 L405,515.43 L406,515.47 L407,515.5 L408,515.53 L409,515.56 L410,515.59 L411,515.62 L412,515.65 L413,515.67 L414,515.69 L415,515.71 L416,515.73 L417,515.75 L418,515.77 L419,515.79 L420,515.81 L421,515.82 L422,515.84 L423,515.85 L424,515.87 L425,515.88 L426,515.89 L427,515.9 L428,515.92 L429,515.93 L430,515.94 L431,515.95 L432,515.96 L433,515.97 L434,515.98 L435,515.98 L436,515.99 L437,516 L438,516.01 L439,516.02 L440,516.02 L441,516.03 L442,516.04 L443,516.04 L444,516.05 L445,516.05 L446,516.06 L447,516.07 L448,516.07 L449,516.08 L450,516.08 L451,516.09 L452,516.09 L453,516.09 L454,516.1 L455,516.1 L456,516.11 L457,516.11 L458,516.12 L459,516.12 L460,516.12 L461,516.13 L462,516.13 L463,516.13 L464,516.14 L465,516.14 L466,516.14 L467,516.15 L468,516.15 L469,516.15 L470,516.15 L471,516.16 L472,516.16 L473,516.16 L474,516.16 L475,516.17 L476,516.17 L477,516.17 L478,516.17 L479,516.18 L480,516.18 L481,516.18 L481,516.3 L243,516.3 Z" fill="#c6dbef" fill-opacity="0.8"/>
<path d="M233,516.18 L234,516.18 L235,516.18 L236,516.17 L237,516.17 L238,516.17 L239,516.17 L240,516.17 L241,516.16 L242,516.16 L243,516.16 L244,516.16 L245,516.16 L246,516.15 L247,516.15 L248,516.15 L249,516.15 L250,516.15 L251,516.14 L252,516.14 L253,516.14 L254,516.14 L255,516.13 L256,516.13 L257,516.13 L258,516.12 L259,516.12 L260,516.12 L261,516.12 L262,516.11 L263,516.11 L264,516.11 L265,516.1 L266,516.1 L267,516.1 L268,516.09 L269,516.09 L270,516.08 L271,516.08 L272,516.08 L273,516.07 L274,516.07 L275,516.06 L276,516.06 L277,516.05 L278,516.05 L279,516.05 L280,516.04 L281,516.04 L282,516.03 L283,516.02 L284,516.02 L285,516.01 L286,516.01 L287,516 L288,515.99 L289,515.99 L290,515.98 L291,515.97 L292,515.97 L293,515.96 L294,515.95 L295,515.94 L296,515.93 L297,515.93 L298,515.92 L299,515.91 L300,515.9 L301,515.89 L302,515.88 L303,515.87 L304,515.86 L305,515.84 L306,515.83 L307,515.82 L308,515.81 L309,515.79 L310,515.78 L311,515.76 L312,515.75 L313,515.73 L314,515.72 L315,515.7 L316,515.68 L317,515.66 L318,515.64 L319,515.62 L320,515.6 L321,515.58 L322,515.55 L323,515.53 L324,515.5 L325,515.47 L326,515.44 L327,515.41 L328,515.38 L329,515.35 L330,515.31 L331,515.27 L332,515.23 L333,515.19 L334,515.14 L335,515.09 L336,515.04 L337,514.98 L338,514.91 L339,514.84 L340,514.76 L341,514.67 L342,514.56 L343,514.44 L344,514.31 L345,514.14 L346,513.94 L347,513.71 L348,513.43 L349,513.09 L350,512.68 L351,512.19 L352,511.59 L353,510.88 L354,510.03 L355,509.02 L356,507.82 L357,506.41 L358,504.78 L359,502.89 L360,500.73 L361,498.28 L362,495.53 L363,492.47 L364,489.11 L365,485.44 L366,481.5 L367,477.3 L368,472.89 L369,468.32 L370,463.65 L371,458.96 L372,454.32 L373,449.83 L374,445.6 L375,441.71 L376,438.29 L377,435.44 L378,433.25 L379,431.79 L380,431.14 L381,431.3 L382,432.28 L383,434.04 L384,436.51 L385,439.6 L386,443.22 L387,447.25 L388,451.6 L389,456.16 L390,460.83 L391,465.53 L392,470.16 L393,474.68 L394,479.01 L395,483.11 L396,486.94 L397,490.49 L398,493.73 L399,496.67 L400,499.3 L401,501.63 L402,503.68 L403,505.46 L404,507 L405,508.32 L406,509.44 L407,510.39 L408,511.18 L409,511.85 L410,512.4 L411,512.86 L412,513.23 L413,513.55 L414,513.81 L415,514.03 L416,514.21 L417,514.36 L418,514.49 L419,514.61 L420,514.71 L421,514.79 L422,514.87 L423,514.94 L424,515 L425,515.06 L426,515.11 L427,515.16 L428,515.21 L429,515.25 L430,515.29 L431,515.33 L432,515.36 L433,515.39 L434,515.43 L435,515.46 L436,515.49 L437,515.51 L438,515.54 L439,515.56 L440,515.59 L441,515.61 L442,515.63 L443,515.65 L444,515.67 L445,515.69 L446,515.71 L447,515.72 L448,515.74 L449,515.76 L450,515.77 L451,515.79 L452,515.8 L453,515.81 L454,515.82 L455,515.84 L456,515.85 L457,515.86 L458,515.87 L459,515.88 L460,515.89 L461,515.9 L462,515.91 L463,515.92 L464,515.93 L465,515.94 L466,515.95 L467,515.95 L468,515.96 L469,515.97 L470,515.98 L471,515.98 L472,515.99 L473,516 L474,516 L475,516.01 L476,516.02 L477,516.02 L478,516.03 L479,516.03 L480,516.04 L481,516.04 L482,516.05 L483,516.05 L484,516.06 L485,516.06 L486,516.07 L487,516.07 L488,516.07 L489,516.08 L490,516.08 L491,516.09 L492,516.09 L493,516.09 L494,516.1 L495,516.1 L496,516.1 L497,516.11 L498,516.11 L499,516.11 L500,516.12 L501,516.12 L502,516.12 L503,516.13 L504,516.13 L505,516.13 L506,516.13 L507,516.14 L508,516.14 L509,516.14 L510,516.14 L511,516.15 L512,516.15 L513,516.15 L514,516.15 L515,516.15 L516,516.16 L517,516.16 L518,516.16 L519,516.16 L520,516.17 L521,516.17 L522,516.17 L523,516.17 L524,516.17 L525,516.17 L526,516.18 L527,516.18 L528,516.18 L528,516.3 L233,516.3 Z" fill="#cb181d" fill-opacity="0.8"/>
<path d="M208,516.18 L209,516.18 L210,516.18 L211,516.18 L212,516.17 L213,516.17 L214,516.17 L215,516.17 L216,516.17 L217,516.17 L218,516.17 L219,516.16 L220,516.16 L221,516.16 L222,516.16 L223,516.16 L224,516.16 L225,516.16 L226,516.15 L227,516.15 L228,516.15 L229,516.15 L230,516.15 L231,516.14 L232,516.14 L233,516.14 L234,516.14 L235,516.14 L236,516.14 L237,516.13 L238,516.13 L239,516.13 L240,516.13 L241,516.13 L242,516.12 L243,516.12 L244,516.12 L245,516.12 L246,516.11 L247,516.11 L248,516.11 L249,516.11 L250,516.11 L251,516.1 L252,516.1 L253,516.1 L254,516.09 L255,516.09 L256,516.09 L257,516.09 L258,516.08 L259,516.08 L260,516.08 L261,516.07 L262,516.07 L263,516.07 L264,516.06 L265,516.06 L266,516.06 L267,516.05 L268,516.05 L269,516.05 L270,516.04 L271,516.04 L272,516.04 L273,516.03 L274,516.03 L275,516.02 L276,516.02 L277,516.02 L278,516.01 L279,516.01 L280,516 L281,516 L282,515.99 L283,515.99 L284,515.98 L285,515.98 L286,515.97 L287,515.97 L288,515.96 L289,515.95 L290,515.95 L291,515.94 L292,515.94 L293,515.93 L294,515.92 L295,515.92 L296,515.91 L297,515.9 L298,515.9 L299,515.89 L300,515.88 L301,515.87 L302,515.86 L303,515.86 L304,515.85 L305,515.84 L306,515.83 L307,515.82 L308,515.81 L309,515.8 L310,515.79 L311,515.78 L312,515.77 L313,515.76 L314,515.74 L315,515.73 L316,515.72 L317,515.71 L318,515.69 L319,515.68 L320,515.67 L321,515.65 L322,515.64 L323,515.62 L324,515.6 L325,515.59 L326,515.57 L327,515.55 L328,515.53 L329,515.51 L330,515.49 L331,515.47 L332,515.45 L333,515.42 L334,515.4 L335,515.38 L336,515.35 L337,515.32 L338,515.3 L339,515.27 L340,515.24 L341,515.2 L342,515.17 L343,515.14 L344,515.1 L345,515.06 L346,515.02 L347,514.98 L348,514.93 L349,514.89 L350,514.84 L351,514.79 L352,514.73 L353,514.67 L354,514.61 L355,514.55 L356,514.48 L357,514.4 L358,514.32 L359,514.23 L360,514.13 L361,514.03 L362,513.91 L363,513.77 L364,513.62 L365,513.44 L366,513.24 L367,513 L368,512.72 L369,512.39 L370,512 L371,511.54 L372,510.99 L373,510.34 L374,509.57 L375,508.66 L376,507.58 L377,506.32 L378,504.84 L379,503.13 L380,501.15 L381,498.88 L382,496.29 L383,493.36 L384,490.07 L385,486.41 L386,482.37 L387,477.94 L388,473.13 L389,467.97 L390,462.46 L391,456.66 L392,450.61 L393,444.37 L394,438 L395,431.61 L396,425.27 L397,419.1 L398,413.2 L399,407.69 L400,402.69 L401,398.34 L402,394.73 L403,391.98 L404,390.16 L405,389.35 L406,389.55 L407,390.77 L408,392.97 L409,396.08 L410,400 L411,404.62 L412,409.84 L413,415.52 L414,421.54 L415,427.79 L416,434.17 L417,440.56 L418,446.88 L419,453.06 L420,459.01 L421,464.7 L422,470.08 L423,475.1 L424,479.76 L425,484.03 L426,487.92 L427,491.43 L428,494.57 L429,497.36 L430,499.82 L431,501.98 L432,503.85 L433,505.46 L434,506.85 L435,508.03 L436,509.04 L437,509.9 L438,510.62 L439,511.22 L440,511.73 L441,512.17 L442,512.53 L443,512.84 L444,513.1 L445,513.32 L446,513.51 L447,513.68 L448,513.83 L449,513.96 L450,514.07 L451,514.17 L452,514.27 L453,514.35 L454,514.43 L455,514.51 L456,514.57 L457,514.64 L458,514.7 L459,514.75 L460,514.81 L461,514.86 L462,514.91 L463,514.95 L464,515 L465,515.04 L466,515.08 L467,515.11 L468,515.15 L469,515.18 L470,515.22 L471,515.25 L472,515.28 L473,515.31 L474,515.33 L475,515.36 L476,515.39 L477,515.41 L478,515.43 L479,515.46 L480,515.48 L481,515.5 L482,515.52 L483,515.54 L484,515.56 L485,515.58 L486,515.59 L487,515.61 L488,515.63 L489,515.64 L490,515.66 L491,515.67 L492,515.68 L493,515.7 L494,515.71 L495,515.72 L496,515.74 L497,515.75 L498,515.76 L499,515.77 L500,515.78 L501,515.79 L502,515.8 L503,515.81 L504,515.82 L505,515.83 L506,515.84 L507,515.85 L508,515.86 L509,515.87 L510,515.88 L511,515.88 L512,515.89 L513,515.9 L514,515.91 L515,515.91 L516,515.92 L517,515.93 L518,515.93 L519,515.94 L520,515.94 L521,515.95 L522,515.96 L523,515.96 L524,515.97 L525,515.97 L526,515.98 L527,515.98 L528,515.99 L529,515.99 L530,516 L530,516.3 L208,516.3 Z" fill="#fc9272" fill-opacity="0.8"/>
<path d="M215,516.18 L216,516.18 L217,516.18 L218,516.18 L219,516.18 L220,516.17 L221,516.17 L222,516.17 L223,516.17 L224,516.17 L225,516.17 L226,516.17 L227,516.17 L228,516.16 L229,516.16 L230,516.16 L231,516.16 L232,516.16 L233,516.16 L234,516.16 L235,516.15 L236,516.15 L237,516.15 L238,516.15 L239,516.15 L240,516.15 L241,516.14 L242,516.14 L243,516.14 L244,516.14 L245,516.14 L246,516.14 L247,516.13 L248,516.13 L249,516.13 L250,516.13 L251,516.13 L252,516.12 L253,516.12 L254,516.12 L255,516.12 L256,516.12 L257,516.11 L258,516.11 L259,516.11 L260,516.11 L261,516.11 L262,516.1 L263,516.1 L264,516.1 L265,516.1 L266,516.09 L267,516.09 L268,516.09 L269,516.09 L270,516.08 L271,516.08 L272,516.08 L273,516.07 L274,516.07 L275,516.07 L276,516.07 L277,516.06 L278,516.06 L279,516.06 L280,516.05 L281,516.05 L282,516.05 L283,516.04 L284,516.04 L285,516.04 L286,516.03 L287,516.03 L288,516.03 L289,516.02 L290,516.02 L291,516.01 L292,516.01 L293,516.01 L294,516 L295,516 L296,515.99 L297,515.99 L298,515.98 L299,515.98 L300,515.97 L301,515.97 L302,515.96 L303,515.96 L304,515.95 L305,515.95 L306,515.94 L307,515.93 L308,515.93 L309,515.92 L310,515.92 L311,515.91 L312,515.9 L313,515.9 L314,515.89 L315,515.88 L316,515.88 L317,515.87 L318,515.86 L319,515.85 L320,515.84 L321,515.84 L322,515.83 L323,515.82 L324,515.81 L325,515.8 L326,515.79 L327,515.78 L328,515.77 L329,515.76 L330,515.75 L331,515.74 L332,515.73 L333,515.72 L334,515.71 L335,515.69 L336,515.68 L337,515.67 L338,515.65 L339,515.64 L340,515.63 L341,515.61 L342,515.6 L343,515.58 L344,515.56 L345,515.55 L346,515.53 L347,515.51 L348,515.49 L349,515.47 L350,515.45 L351,515.43 L352,515.41 L353,515.39 L354,515.36 L355,515.34 L356,515.31 L357,515.29 L358,515.26 L359,515.23 L360,515.2 L361,515.17 L362,515.14 L363,515.1 L364,515.07 L365,515.03 L366,514.99 L367,514.94 L368,514.9 L369,514.85 L370,514.79 L371,514.73 L372,514.67 L373,514.6 L374,514.52 L375,514.43 L376,514.33 L377,514.21 L378,514.08 L379,513.93 L380,513.75 L381,513.55 L382,513.31 L383,513.04 L384,512.72 L385,512.35 L386,511.92 L387,511.41 L388,510.83 L389,510.15 L390,509.37 L391,508.46 L392,507.43 L393,506.24 L394,504.88 L395,503.34 L396,501.6 L397,499.65 L398,497.45 L399,495.01 L400,492.29 L401,489.3 L402,486.01 L403,482.42 L404,478.53 L405,474.32 L406,469.81 L407,464.99 L408,459.89 L409,454.51 L410,448.88 L411,443.03 L412,436.99 L413,430.8 L414,424.51 L415,418.17 L416,411.84 L417,405.57 L418,399.44 L419,393.5 L420,387.84 L421,382.51 L422,377.6 L423,373.17 L424,369.3 L425,366.03 L426,363.43 L427,361.53 L428,360.39 L429,360 L430,360.39 L431,361.53 L432,363.43 L433,365.68 L434,368.09 L435,370.86 L436,374.14 L437,378.04 L438,382.6 L439,387.83 L440,393.74 L441,400.03 L442,406.39 L443,412.77 L444,419.13 L445,425.43 L446,431.65 L447,437.77 L448,443.78 L449,449.66 L450,455.4 L451,460.96 L452,466.32 L453,471.45 L454,476.33 L455,480.93 L456,485.23 L457,489.21 L458,492.87 L459,496.2 L460,499.22 L461,501.92 L462,504.34 L463,506.48 L464,508.36 L465,510 L466,511.42 L467,512.64 L468,513.67 L469,514.53 L470,515.23 L471,515.81 L471,516.3 L215,516.3 Z" fill="#fee0d2" fill-opacity="0.8"/>
</g>
<path d="M62,516.2 H524.9" stroke="#fcc4b0" stroke-width="1" fill="none"/>
<g clip-path="url(#cr)">
<g fill="#fff" stroke="#000" stroke-width="0.85">
<circle cx="536.32" cy="518.6" r="5.5"/>
<circle cx="537.83" cy="518.6" r="5.5"/>
<circle cx="539.33" cy="521.18" r="5.5"/>
<circle cx="540.72" cy="519.29" r="5.5"/>
<circle cx="542.14" cy="522.23" r="5.5"/>
<circle cx="543.46" cy="517.38" r="5.5"/>
<circle cx="544.48" cy="520.1" r="5.5"/>
<circle cx="546.46" cy="519.58" r="5.5"/>
<circle cx="548.54" cy="517.07" r="5.5"/>
<circle cx="549.34" cy="518.99" r="5.5"/>
<circle cx="550.81" cy="517.28" r="5.5"/>
<circle cx="552.81" cy="519.61" r="5.5"/>
<circle cx="554.02" cy="518.27" r="5.5"/>
<circle cx="555.36" cy="519.14" r="5.5"/>
<circle cx="557.47" cy="516.58" r="5.5"/>
<circle cx="558.69" cy="513.92" r="5.5"/>
<circle cx="560.23" cy="514.76" r="5.5"/>
<circle cx="561.33" cy="513.11" r="5.5"/>
<circle cx="563.15" cy="515.89" r="5.5"/>
<circle cx="564.61" cy="515.16" r="5.5"/>
<circle cx="566.23" cy="513.99" r="5.5"/>
<circle cx="567.84" cy="511.76" r="5.5"/>
<circle cx="569.34" cy="511.7" r="5.5"/>
<circle cx="570.55" cy="511.93" r="5.5"/>
<circle cx="572.21" cy="510.42" r="5.5"/>
<circle cx="573.16" cy="511.37" r="5.5"/>
<circle cx="575.19" cy="510.74" r="5.5"/>
<circle cx="576.71" cy="508.02" r="5.5"/>
<circle cx="577.88" cy="510.9" r="5.5"/>
<circle cx="579.27" cy="509.12" r="5.5"/>
<circle cx="580.98" cy="506.15" r="5.5"/>
<circle cx="582.14" cy="508.31" r="5.5"/>
<circle cx="584.1" cy="506.72" r="5.5"/>
<circle cx="585.59" cy="508.49" r="5.5"/>
<circle cx="586.72" cy="503.38" r="5.5"/>
<circle cx="588.51" cy="510.2" r="5.5"/>
<circle cx="590.32" cy="507.57" r="5.5"/>
<circle cx="591.82" cy="506.72" r="5.5"/>
<circle cx="593.3" cy="501.19" r="5.5"/>
<circle cx="594.45" cy="502.62" r="5.5"/>
<circle cx="595.9" cy="502.82" r="5.5"/>
<circle cx="597.38" cy="503.7" r="5.5"/>
<circle cx="599.18" cy="499.7" r="5.5"/>
<circle cx="601.21" cy="499.05" r="5.5"/>
<circle cx="602.42" cy="499.37" r="5.5"/>
<circle cx="603.98" cy="499.61" r="5.5"/>
<circle cx="605.4" cy="497.59" r="5.5"/>
<circle cx="606.02" cy="493.73" r="5.5"/>
<circle cx="607.94" cy="491.97" r="5.5"/>
<circle cx="609.37" cy="490.66" r="5.5"/>
<circle cx="611.37" cy="489.08" r="5.5"/>
<circle cx="613.01" cy="489.87" r="5.5"/>
<circle cx="613.8" cy="483.75" r="5.5"/>
<circle cx="615.51" cy="482.82" r="5.5"/>
<circle cx="617.17" cy="477.25" r="5.5"/>
<circle cx="618.35" cy="472.47" r="5.5"/>
<circle cx="619.81" cy="470.34" r="5.5"/>
<circle cx="621.3" cy="466.05" r="5.5"/>
<circle cx="623.27" cy="456.06" r="5.5"/>
<circle cx="624.23" cy="450.6" r="5.5"/>
<circle cx="626.34" cy="444.64" r="5.5"/>
<circle cx="627.53" cy="440.29" r="5.5"/>
<circle cx="629.23" cy="421.89" r="5.5"/>
<circle cx="630.96" cy="406.62" r="5.5"/>
<circle cx="631.8" cy="389.94" r="5.5"/>
<circle cx="633.25" cy="377.96" r="5.5"/>
<circle cx="635.13" cy="360.41" r="5.5"/>
<circle cx="636.19" cy="341.88" r="5.5"/>
<circle cx="637.78" cy="319.65" r="5.5"/>
<circle cx="639.47" cy="307.21" r="5.5"/>
<circle cx="641.05" cy="284.53" r="5.5"/>
<circle cx="642.13" cy="267.32" r="5.5"/>
<circle cx="643.89" cy="242.34" r="5.5"/>
<circle cx="645.67" cy="227.75" r="5.5"/>
<circle cx="647.4" cy="198.78" r="5.5"/>
<circle cx="647.91" cy="180.88" r="5.5"/>
<circle cx="650.39" cy="159.27" r="5.5"/>
<circle cx="651.76" cy="136.97" r="5.5"/>
<circle cx="652.68" cy="116.17" r="5.5"/>
<circle cx="654.06" cy="113.36" r="5.5"/>
<circle cx="656.12" cy="91.78" r="5.5"/>
<circle cx="657.37" cy="87.5" r="5.5"/>
<circle cx="659.04" cy="86.1" r="5.5"/>
<circle cx="660.76" cy="72.2" r="5.5"/>
<circle cx="661.89" cy="61.71" r="5.5"/>
<circle cx="663.55" cy="62.58" r="5.5"/>
<circle cx="665.14" cy="61.13" r="5.5"/>
<circle cx="666.77" cy="61.5" r="5.5"/>
<circle cx="668.53" cy="60.27" r="5.5"/>
<circle cx="670.01" cy="66.99" r="5.5"/>
<circle cx="671.07" cy="67.32" r="5.5"/>
<circle cx="672.43" cy="90.26" r="5.5"/>
<circle cx="674.71" cy="100.04" r="5.5"/>
<circle cx="675.69" cy="105.94" r="5.5"/>
<circle cx="677.13" cy="103.29" r="5.5"/>
<circle cx="678.17" cy="99.44" r="5.5"/>
<circle cx="680.23" cy="120.96" r="5.5"/>
<circle cx="681.27" cy="122.04" r="5.5"/>
<circle cx="682.86" cy="136.69" r="5.5"/>
<circle cx="684.1" cy="136.67" r="5.5"/>
<circle cx="685.85" cy="142.59" r="5.5"/>
<circle cx="687.52" cy="160.79" r="5.5"/>
<circle cx="688.55" cy="166.12" r="5.5"/>
<circle cx="690.23" cy="167.25" r="5.5"/>
<circle cx="691.98" cy="180.5" r="5.5"/>
<circle cx="693.12" cy="191.64" r="5.5"/>
<circle cx="694.63" cy="197.48" r="5.5"/>
<circle cx="696.25" cy="204.88" r="5.5"/>
<circle cx="697.58" cy="197.83" r="5.5"/>
<circle cx="699.68" cy="206.99" r="5.5"/>
<circle cx="700.7" cy="202.77" r="5.5"/>
<circle cx="702.73" cy="205.89" r="5.5"/>
<circle cx="704.28" cy="213.98" r="5.5"/>
<circle cx="705.14" cy="215.68" r="5.5"/>
<circle cx="707.01" cy="213.15" r="5.5"/>
<circle cx="708.36" cy="218.5" r="5.5"/>
<circle cx="709.66" cy="221.85" r="5.5"/>
<circle cx="711.4" cy="233.8" r="5.5"/>
<circle cx="712.93" cy="230.01" r="5.5"/>
<circle cx="714.71" cy="242.29" r="5.5"/>
<circle cx="716.31" cy="252.42" r="5.5"/>
<circle cx="717.17" cy="250.56" r="5.5"/>
<circle cx="718.88" cy="250.28" r="5.5"/>
<circle cx="720.66" cy="247.93" r="5.5"/>
<circle cx="722.35" cy="260.95" r="5.5"/>
<circle cx="722.77" cy="269.58" r="5.5"/>
<circle cx="725.38" cy="263.89" r="5.5"/>
<circle cx="726.45" cy="277.29" r="5.5"/>
<circle cx="728.46" cy="285.64" r="5.5"/>
<circle cx="729.37" cy="295.29" r="5.5"/>
<circle cx="730.75" cy="301.95" r="5.5"/>
<circle cx="732.51" cy="300.84" r="5.5"/>
<circle cx="734.35" cy="313.03" r="5.5"/>
<circle cx="735.51" cy="320.29" r="5.5"/>
<circle cx="736.29" cy="326.4" r="5.5"/>
<circle cx="738.7" cy="326.11" r="5.5"/>
<circle cx="739.52" cy="338.23" r="5.5"/>
<circle cx="741.21" cy="340.04" r="5.5"/>
<circle cx="742.65" cy="346.2" r="5.5"/>
<circle cx="743.95" cy="351.09" r="5.5"/>
<circle cx="745.62" cy="358.77" r="5.5"/>
<circle cx="747.2" cy="358.71" r="5.5"/>
<circle cx="748.82" cy="360.13" r="5.5"/>
<circle cx="750.48" cy="368.55" r="5.5"/>
<circle cx="751.9" cy="374.64" r="5.5"/>
<circle cx="753.06" cy="379.38" r="5.5"/>
<circle cx="754.95" cy="379.32" r="5.5"/>
<circle cx="756.79" cy="384.6" r="5.5"/>
<circle cx="758.28" cy="388.21" r="5.5"/>
<circle cx="759.54" cy="391.59" r="5.5"/>
<circle cx="761.19" cy="398.21" r="5.5"/>
<circle cx="762.77" cy="394.07" r="5.5"/>
<circle cx="764.41" cy="395.8" r="5.5"/>
<circle cx="766.01" cy="395.92" r="5.5"/>
<circle cx="766.9" cy="393.93" r="5.5"/>
<circle cx="768.42" cy="390.84" r="5.5"/>
<circle cx="770.44" cy="391.9" r="5.5"/>
<circle cx="771.97" cy="393.23" r="5.5"/>
<circle cx="773.46" cy="387.14" r="5.5"/>
<circle cx="773.8" cy="390.4" r="5.5"/>
<circle cx="775.93" cy="390.24" r="5.5"/>
<circle cx="776.52" cy="391.44" r="5.5"/>
<circle cx="779.22" cy="386.31" r="5.5"/>
<circle cx="780.52" cy="388" r="5.5"/>
<circle cx="782.02" cy="385.54" r="5.5"/>
<circle cx="783.46" cy="381.94" r="5.5"/>
<circle cx="785.39" cy="382.03" r="5.5"/>
<circle cx="786.41" cy="378.5" r="5.5"/>
<circle cx="788.31" cy="379.55" r="5.5"/>
<circle cx="789.67" cy="380.72" r="5.5"/>
<circle cx="791.11" cy="379.97" r="5.5"/>
<circle cx="792.64" cy="380.06" r="5.5"/>
<circle cx="794.03" cy="376.82" r="5.5"/>
<circle cx="795.17" cy="378.55" r="5.5"/>
<circle cx="797.21" cy="380.01" r="5.5"/>
<circle cx="798.71" cy="377.26" r="5.5"/>
<circle cx="799.96" cy="380.11" r="5.5"/>
<circle cx="801.72" cy="382.73" r="5.5"/>
<circle cx="803.27" cy="386.9" r="5.5"/>
<circle cx="804.12" cy="383.49" r="5.5"/>
<circle cx="805.96" cy="386.05" r="5.5"/>
<circle cx="807.37" cy="388.9" r="5.5"/>
<circle cx="808.73" cy="392.84" r="5.5"/>
<circle cx="810.6" cy="396.87" r="5.5"/>
<circle cx="811.75" cy="398.65" r="5.5"/>
<circle cx="813.37" cy="401.1" r="5.5"/>
<circle cx="815.07" cy="405.82" r="5.5"/>
<circle cx="816.6" cy="409.84" r="5.5"/>
<circle cx="818.1" cy="414.73" r="5.5"/>
<circle cx="820.17" cy="416.99" r="5.5"/>
<circle cx="820.85" cy="421.53" r="5.5"/>
<circle cx="822.58" cy="428.17" r="5.5"/>
<circle cx="823.64" cy="429.06" r="5.5"/>
<circle cx="825.64" cy="433.45" r="5.5"/>
<circle cx="827.35" cy="437.88" r="5.5"/>
<circle cx="828.86" cy="444.43" r="5.5"/>
<circle cx="829.81" cy="448.98" r="5.5"/>
<circle cx="831.42" cy="455.41" r="5.5"/>
<circle cx="833.38" cy="455.61" r="5.5"/>
<circle cx="834.47" cy="465.83" r="5.5"/>
<circle cx="836.29" cy="466.23" r="5.5"/>
<circle cx="837.21" cy="470.03" r="5.5"/>
<circle cx="839.42" cy="471.38" r="5.5"/>
<circle cx="840.81" cy="476.7" r="5.5"/>
<circle cx="842.14" cy="482.02" r="5.5"/>
<circle cx="843.26" cy="486.15" r="5.5"/>
<circle cx="844.95" cy="487.88" r="5.5"/>
<circle cx="846.55" cy="489.19" r="5.5"/>
<circle cx="848.08" cy="492" r="5.5"/>
<circle cx="849.47" cy="495" r="5.5"/>
<circle cx="850.93" cy="498.23" r="5.5"/>
<circle cx="852.56" cy="499.51" r="5.5"/>
<circle cx="854.42" cy="499.31" r="5.5"/>
<circle cx="854.9" cy="504.91" r="5.5"/>
<circle cx="856.59" cy="504.53" r="5.5"/>
<circle cx="858.04" cy="503.24" r="5.5"/>
<circle cx="859.79" cy="506.52" r="5.5"/>
<circle cx="860.98" cy="509.56" r="5.5"/>
<circle cx="863.17" cy="508.75" r="5.5"/>
<circle cx="864.53" cy="512.24" r="5.5"/>
<circle cx="865.92" cy="511.85" r="5.5"/>
<circle cx="867.3" cy="510.01" r="5.5"/>
<circle cx="869.05" cy="510.18" r="5.5"/>
<circle cx="870.55" cy="517.04" r="5.5"/>
<circle cx="872.1" cy="513.54" r="5.5"/>
<circle cx="873.28" cy="512.02" r="5.5"/>
<circle cx="875.19" cy="516.89" r="5.5"/>
<circle cx="876.06" cy="516.2" r="5.5"/>
<circle cx="878.37" cy="514.82" r="5.5"/>
<circle cx="878.58" cy="519.08" r="5.5"/>
<circle cx="880.82" cy="518.34" r="5.5"/>
<circle cx="882.14" cy="520.06" r="5.5"/>
<circle cx="884.24" cy="524.03" r="5.5"/>
<circle cx="885.05" cy="520.68" r="5.5"/>
<circle cx="887.55" cy="522.04" r="5.5"/>
<circle cx="888.04" cy="520.4" r="5.5"/>
<circle cx="890.61" cy="518.57" r="5.5"/>
<circle cx="891.63" cy="521.15" r="5.5"/>
<circle cx="893.01" cy="523.06" r="5.5"/>
<circle cx="894.63" cy="521.67" r="5.5"/>
<circle cx="896.66" cy="522.12" r="5.5"/>
<circle cx="897.77" cy="520.68" r="5.5"/>
<circle cx="898.33" cy="524.96" r="5.5"/>
<circle cx="900.86" cy="524.46" r="5.5"/>
<circle cx="902.07" cy="525.97" r="5.5"/>
<circle cx="903.01" cy="521.31" r="5.5"/>
<circle cx="905.23" cy="522.37" r="5.5"/>
<circle cx="906.14" cy="523.42" r="5.5"/>
<circle cx="908.05" cy="523.54" r="5.5"/>
<circle cx="909.57" cy="523.24" r="5.5"/>
<circle cx="910.81" cy="523.83" r="5.5"/>
<circle cx="912.69" cy="522.74" r="5.5"/>
<circle cx="913.69" cy="523.02" r="5.5"/>
<circle cx="915.56" cy="519.72" r="5.5"/>
<circle cx="916.84" cy="521.56" r="5.5"/>
<circle cx="918.45" cy="523.52" r="5.5"/>
<circle cx="920.58" cy="523.03" r="5.5"/>
<circle cx="921.53" cy="519.7" r="5.5"/>
<circle cx="922.67" cy="520.3" r="5.5"/>
<circle cx="924.46" cy="518.8" r="5.5"/>
<circle cx="925.77" cy="515.31" r="5.5"/>
<circle cx="927.51" cy="511.61" r="5.5"/>
<circle cx="929.05" cy="515.4" r="5.5"/>
<circle cx="930.53" cy="514.21" r="5.5"/>
<circle cx="932.03" cy="515.75" r="5.5"/>
<circle cx="933.34" cy="511.75" r="5.5"/>
<circle cx="935.13" cy="513.09" r="5.5"/>
<circle cx="936.82" cy="513.41" r="5.5"/>
<circle cx="937.81" cy="513.35" r="5.5"/>
<circle cx="939.48" cy="510.6" r="5.5"/>
<circle cx="941.02" cy="511.84" r="5.5"/>
<circle cx="942.88" cy="512.34" r="5.5"/>
<circle cx="944.32" cy="509.14" r="5.5"/>
<circle cx="945.28" cy="513.12" r="5.5"/>
<circle cx="947.02" cy="513.57" r="5.5"/>
<circle cx="948.05" cy="507.03" r="5.5"/>
<circle cx="949.71" cy="512.36" r="5.5"/>
<circle cx="951.5" cy="512.89" r="5.5"/>
<circle cx="953.19" cy="513.43" r="5.5"/>
<circle cx="954.79" cy="512.61" r="5.5"/>
<circle cx="955.91" cy="511.19" r="5.5"/>
<circle cx="957.09" cy="511.36" r="5.5"/>
<circle cx="959.12" cy="511.8" r="5.5"/>
<circle cx="960.45" cy="513.26" r="5.5"/>
<circle cx="962.13" cy="515.36" r="5.5"/>
<circle cx="963.55" cy="512.26" r="5.5"/>
<circle cx="965.21" cy="510.06" r="5.5"/>
<circle cx="966.7" cy="510.73" r="5.5"/>
<circle cx="968.25" cy="512.73" r="5.5"/>
<circle cx="969.36" cy="510.89" r="5.5"/>
<circle cx="971.3" cy="512.79" r="5.5"/>
<circle cx="972.35" cy="512.1" r="5.5"/>
<circle cx="974.03" cy="514.06" r="5.5"/>
<circle cx="976.06" cy="512.47" r="5.5"/>
<circle cx="977.11" cy="511.74" r="5.5"/>
<circle cx="978.15" cy="512.4" r="5.5"/>
<circle cx="980.45" cy="510.94" r="5.5"/>
<circle cx="981.8" cy="509.2" r="5.5"/>
<circle cx="983.34" cy="510.36" r="5.5"/>
<circle cx="984.56" cy="513.33" r="5.5"/>
<circle cx="986.1" cy="514.22" r="5.5"/>
<circle cx="987.43" cy="514.24" r="5.5"/>
<circle cx="988.79" cy="514.95" r="5.5"/>
<circle cx="990.96" cy="513.38" r="5.5"/>
<circle cx="991.89" cy="512.92" r="5.5"/>
<circle cx="993.36" cy="513.56" r="5.5"/>
<circle cx="994.87" cy="513.79" r="5.5"/>
<circle cx="997.06" cy="514.12" r="5.5"/>
<circle cx="998.26" cy="514.87" r="5.5"/>
<circle cx="999.39" cy="516.15" r="5.5"/>
<circle cx="1000.99" cy="512.13" r="5.5"/>
<circle cx="1002.65" cy="513.45" r="5.5"/>
<circle cx="1004.26" cy="516.92" r="5.5"/>
<circle cx="1005.02" cy="517.01" r="5.5"/>
<circle cx="1007.27" cy="516.53" r="5.5"/>
<circle cx="1008.43" cy="515.53" r="5.5"/>
<circle cx="1009.79" cy="513.47" r="5.5"/>
<circle cx="1011.38" cy="513.91" r="5.5"/>
</g>
<path d="M541,515.52 L542,515.46 L543,515.4 L544,515.33 L545,515.26 L546,515.18 L547,515.11 L548,515.03 L549,514.94 L550,514.85 L551,514.76 L552,514.66 L553,514.55 L554,514.44 L555,514.33 L556,514.21 L557,514.09 L558,513.95 L559,513.82 L560,513.68 L561,513.53 L562,513.38 L563,513.22 L564,513.06 L565,512.89 L566,512.72 L567,512.54 L568,512.35 L569,512.16 L570,511.96 L571,511.75 L572,511.54 L573,511.32 L574,511.1 L575,510.86 L576,510.62 L577,510.37 L578,510.11 L579,509.83 L580,509.54 L581,509.24 L582,508.93 L583,508.6 L584,508.25 L585,507.89 L586,507.52 L587,507.13 L588,506.73 L589,506.3 L590,505.86 L591,505.39 L592,504.9 L593,504.38 L594,503.83 L595,503.26 L596,502.65 L597,502.02 L598,501.35 L599,500.66 L600,499.93 L601,499.18 L602,498.4 L603,497.59 L604,496.74 L605,495.85 L606,494.92 L607,493.92 L608,492.86 L609,491.71 L610,490.46 L611,489.09 L612,487.6 L613,485.95 L614,484.15 L615,482.17 L616,480 L617,477.63 L618,475.07 L619,472.28 L620,469.27 L621,465.99 L622,462.41 L623,458.45 L624,454.06 L625,449.11 L626,443.53 L627,437.21 L628,430.07 L629,422.07 L630,413.21 L631,403.52 L632,393.12 L633,382.12 L634,370.67 L635,358.91 L636,346.93 L637,334.79 L638,322.52 L639,310.07 L640,297.4 L641,284.45 L642,271.18 L643,257.56 L644,243.61 L645,229.39 L646,214.99 L647,200.55 L648,186.23 L649,172.19 L650,158.63 L651,145.72 L652,133.49 L653,121.58 L654,109.65 L655,102.82 L656,96.73 L657,92.19 L658,88.67 L659,85.15 L660,81.62 L661,78.1 L662,74.58 L663,71.06 L664,70.21 L665,72.04 L666,73.87 L667,75.69 L668,77.52 L669,79.53 L670,81.91 L671,84.31 L672,86.71 L673,89.1 L674,91.88 L675,95.04 L676,98.21 L677,101.37 L678,104.53 L679,108.51 L680,112.81 L681,117.49 L682,122.86 L683,128.53 L684,134.43 L685,140.49 L686,146.64 L687,152.79 L688,158.85 L689,164.72 L690,170.31 L691,175.57 L692,180.44 L693,184.9 L694,188.94 L695,192.56 L696,195.78 L697,198.63 L698,201.15 L699,203.38 L700,205.35 L701,207.13 L702,208.75 L703,210.27 L704,211.72 L705,213.14 L706,214.58 L707,216.05 L708,217.6 L709,219.25 L710,221.02 L711,222.95 L712,225.04 L713,227.33 L714,229.84 L715,232.57 L716,235.54 L717,238.74 L718,242.17 L719,245.8 L720,249.63 L721,253.64 L722,257.82 L723,262.13 L724,266.56 L725,271.09 L726,275.7 L727,280.36 L728,285.04 L729,289.73 L730,294.39 L731,299.01 L732,303.58 L733,308.07 L734,312.48 L735,316.81 L736,321.03 L737,325.15 L738,329.15 L739,333.03 L740,336.79 L741,340.41 L742,343.91 L743,347.27 L744,350.5 L745,353.61 L746,356.59 L747,359.44 L748,362.18 L749,364.8 L750,367.3 L751,369.68 L752,371.95 L753,374.11 L754,376.15 L755,378.07 L756,379.88 L757,381.56 L758,383.11 L759,384.54 L760,385.82 L761,386.97 L762,387.97 L763,388.82 L764,389.53 L765,390.1 L766,390.53 L767,390.83 L768,391 L769,391.05 L770,390.98 L771,390.81 L772,390.54 L773,390.17 L774,389.72 L775,389.2 L776,388.62 L777,387.99 L778,387.33 L779,386.63 L780,385.92 L781,385.19 L782,384.48 L783,383.77 L784,383.08 L785,382.42 L786,381.79 L787,381.2 L788,380.66 L789,380.17 L790,379.74 L791,379.39 L792,379.12 L793,378.93 L794,378.84 L795,378.86 L796,378.98 L797,379.22 L798,379.58 L799,380.06 L800,380.66 L801,381.39 L802,382.24 L803,383.22 L804,384.33 L805,385.58 L806,386.97 L807,388.51 L808,390.19 L809,392.02 L810,394 L811,396.13 L812,398.38 L813,400.76 L814,403.23 L815,405.8 L816,408.44 L817,411.15 L818,413.9 L819,416.69 L820,419.52 L821,422.38 L822,425.27 L823,428.18 L824,431.11 L825,434.06 L826,437.03 L827,439.99 L828,442.96 L829,445.92 L830,448.86 L831,451.78 L832,454.66 L833,457.5 L834,460.3 L835,463.04 L836,465.72 L837,468.35 L838,470.91 L839,473.4 L840,475.82 L841,478.17 L842,480.44 L843,482.63 L844,484.75 L845,486.78 L846,488.74 L847,490.61 L848,492.4 L849,494.11 L850,495.73 L851,497.27 L852,498.73 L853,500.11 L854,501.41 L855,502.64 L856,503.8 L857,504.89 L858,505.92 L859,506.88 L860,507.79 L861,508.64 L862,509.44 L863,510.19 L864,510.88 L865,511.53 L866,512.13 L867,512.68 L868,513.18 L869,513.64 L870,514.05 L871,514.43 L872,514.77 L873,515.08 L874,515.35 L875,515.6 L876,515.82 L877,516.02 L878,516.19 L879,516.35 L880,516.49 L881,516.61 L882,516.72 L883,516.82 L884,516.9 L885,516.97 L886,517.03 L887,517.08 L888,517.12 L889,517.16 L890,517.18 L891,517.2 L892,517.21 L893,517.22 L894,517.22 L895,517.21 L896,517.21 L897,517.2 L898,517.18 L899,517.17 L900,517.15 L901,517.13 L902,517.11 L903,517.09 L904,517.06 L905,517.04" fill="none" stroke="#000" stroke-width="1.5" stroke-linejoin="round"/>
<path d="M536,515.51 L537,515.46 L538,515.4 L539,515.34 L540,515.29 L541,515.22 L542,515.16 L543,515.1 L544,515.03 L545,514.96 L546,514.88 L547,514.81 L548,514.73 L549,514.64 L550,514.55 L551,514.46 L552,514.36 L553,514.25 L554,514.14 L555,514.03 L556,513.91 L557,513.79 L558,513.66 L559,513.52 L560,513.38 L561,513.23 L562,513.08 L563,512.92 L564,512.76 L565,512.59 L566,512.42 L567,512.24 L568,512.05 L569,511.86 L570,511.66 L571,511.45 L572,511.24 L573,511.02 L574,510.8 L575,510.57 L576,510.32 L577,510.07 L578,509.81 L579,509.53 L580,509.24 L581,508.94 L582,508.63 L583,508.3 L584,507.95 L585,507.59 L586,507.22 L587,506.83 L588,506.43 L589,506 L590,505.56 L591,505.09 L592,504.6 L593,504.08 L594,503.53 L595,502.96 L596,502.35 L597,501.72 L598,501.05 L599,500.36 L600,499.63 L601,498.88 L602,498.1 L603,497.29 L604,496.44 L605,495.56 L606,494.62 L607,493.62 L608,492.56 L609,491.41 L610,490.16 L611,488.8 L612,487.3 L613,485.66 L614,483.85 L615,481.87 L616,479.71 L617,477.34 L618,474.78 L619,472 L620,468.99 L621,465.72 L622,462.15 L623,458.21 L624,453.82 L625,448.9 L626,443.35 L627,437.06 L628,429.97 L629,422.04 L630,413.25 L631,403.68 L632,393.41 L633,382.58 L634,371.35 L635,359.86 L636,348.23 L637,336.52 L638,324.77 L639,312.97 L640,301.1 L641,289.14 L642,277.04 L643,264.75 L644,252.36 L645,240.05 L646,228.06 L647,216.67 L648,206.11 L649,196.56 L650,188.11 L651,180.78 L652,174.54 L653,169.46 L654,165.7 L655,163.32 L656,162.33 L657,162.75 L658,164.58 L659,167.8 L660,172.35 L661,178.19 L662,185.23 L663,193.4 L664,202.58 L665,212.67 L666,223.55 L667,235.1 L668,247.18 L669,259.67 L670,272.44 L671,285.38 L672,298.35 L673,311.26 L674,323.99 L675,336.46 L676,348.59 L677,360.3 L678,371.53 L679,382.24 L680,392.4 L681,401.96 L682,410.92 L683,419.28 L684,427.02 L685,434.17 L686,440.74 L687,446.75 L688,452.22 L689,457.18 L690,461.67 L691,465.72 L692,469.36 L693,472.62 L694,475.55 L695,478.16 L696,480.5 L697,482.59 L698,484.47 L699,486.15 L700,487.66 L701,489.02 L702,490.25 L703,491.37 L704,492.4 L705,493.34 L706,494.22 L707,495.03 L708,495.79 L709,496.51 L710,497.18 L711,497.83 L712,498.45 L713,499.04 L714,499.62 L715,500.17 L716,500.71 L717,501.23 L718,501.74 L719,502.24 L720,502.72 L721,503.19 L722,503.65 L723,504.1 L724,504.54 L725,504.97 L726,505.39 L727,505.8 L728,506.2 L729,506.59 L730,506.96 L731,507.33 L732,507.69 L733,508.04 L734,508.38 L735,508.71 L736,509.02 L737,509.33 L738,509.63 L739,509.92 L740,510.2 L741,510.48 L742,510.74 L743,510.99 L744,511.24 L745,511.47 L746,511.7 L747,511.92 L748,512.13 L749,512.33 L750,512.53 L751,512.72 L752,512.9 L753,513.07 L754,513.24 L755,513.39 L756,513.55 L757,513.69 L758,513.83 L759,513.96 L760,514.09 L761,514.21 L762,514.33 L763,514.44 L764,514.54 L765,514.64 L766,514.74 L767,514.83 L768,514.91 L769,515 L770,515.07 L771,515.15 L772,515.22 L773,515.28 L774,515.35 L775,515.4 L776,515.46 L777,515.51 L778,515.56 L779,515.61 L780,515.65 L781,515.7 L782,515.74 L783,515.77 L784,515.81 L785,515.84 L786,515.87 L787,515.9 L788,515.93 L789,515.95 L790,515.98 L791,516 L792,516.02 L793,516.04 L794,516.06 L795,516.08 L796,516.09 L797,516.11 L798,516.12 L799,516.14 L800,516.15 L801,516.16 L802,516.17 L802,516.3 L536,516.3 Z" fill="#fee0d2" fill-opacity="0.8"/>
<path d="M627,516.16 L628,516.11 L629,516.05 L630,515.97 L631,515.86 L632,515.73 L633,515.56 L634,515.34 L635,515.07 L636,514.73 L637,514.3 L638,513.78 L639,513.14 L640,512.36 L641,511.42 L642,510.28 L643,508.93 L644,507.32 L645,505.43 L646,503.22 L647,500.65 L648,497.69 L649,494.3 L650,490.44 L651,486.09 L652,481.21 L653,475.78 L654,469.79 L655,463.23 L656,456.1 L657,448.42 L658,440.21 L659,431.51 L660,422.37 L661,412.86 L662,403.06 L663,393.06 L664,382.97 L665,372.9 L666,362.98 L667,353.35 L668,344.13 L669,335.46 L670,327.48 L671,320.31 L672,314.07 L673,308.85 L674,304.76 L675,301.87 L676,300.21 L677,299.83 L678,300.72 L679,302.88 L680,306.26 L681,310.81 L682,316.45 L683,323.07 L684,330.58 L685,338.86 L686,347.76 L687,357.16 L688,366.92 L689,376.92 L690,387.01 L691,397.07 L692,407.01 L693,416.7 L694,426.07 L695,435.05 L696,443.56 L697,451.56 L698,459.02 L699,465.93 L700,472.26 L701,478.02 L702,483.23 L703,487.89 L704,492.04 L705,495.71 L706,498.93 L707,501.73 L708,504.15 L709,506.23 L710,508 L711,509.5 L712,510.76 L713,511.82 L714,512.69 L715,513.41 L716,514 L717,514.48 L718,514.87 L719,515.19 L720,515.43 L721,515.63 L722,515.79 L723,515.91 L724,516 L725,516.08 L726,516.13 L727,516.17 L727,516.3 L627,516.3 Z" fill="#fc9272" fill-opacity="0.8"/>
<path d="M644,516.14 L645,516.1 L646,516.04 L647,515.96 L648,515.87 L649,515.75 L650,515.61 L651,515.43 L652,515.21 L653,514.94 L654,514.61 L655,514.21 L656,513.73 L657,513.16 L658,512.49 L659,511.69 L660,510.75 L661,509.65 L662,508.38 L663,506.91 L664,505.23 L665,503.32 L666,501.15 L667,498.7 L668,495.97 L669,492.93 L670,489.58 L671,485.89 L672,481.88 L673,477.54 L674,472.87 L675,467.88 L676,462.6 L677,457.04 L678,451.24 L679,445.23 L680,439.07 L681,432.8 L682,426.48 L683,420.18 L684,413.95 L685,407.88 L686,402.03 L687,396.47 L688,391.29 L689,386.55 L690,382.31 L691,378.63 L692,375.58 L693,373.19 L694,371.5 L695,370.54 L696,370.31 L697,370.84 L698,372.09 L699,374.06 L700,376.72 L701,380.03 L702,383.94 L703,388.39 L704,393.31 L705,398.65 L706,404.33 L707,410.28 L708,416.43 L709,422.69 L710,429.01 L711,435.32 L712,441.55 L713,447.66 L714,453.58 L715,459.29 L716,464.74 L717,469.91 L718,474.77 L719,479.31 L720,483.53 L721,487.41 L722,490.96 L723,494.18 L724,497.1 L725,499.71 L726,502.05 L727,504.11 L728,505.93 L729,507.53 L730,508.91 L731,510.11 L732,511.14 L733,512.02 L734,512.77 L735,513.4 L736,513.93 L737,514.38 L738,514.75 L739,515.05 L740,515.3 L741,515.5 L742,515.67 L743,515.8 L744,515.91 L745,516 L746,516.06 L747,516.12 L748,516.16 L748,516.3 L644,516.3 Z" fill="#cb181d" fill-opacity="0.8"/>
<path d="M662,516.16 L663,516.12 L664,516.07 L665,516.01 L666,515.92 L667,515.82 L668,515.69 L669,515.52 L670,515.33 L671,515.08 L672,514.78 L673,514.42 L674,513.98 L675,513.45 L676,512.83 L677,512.08 L678,511.2 L679,510.17 L680,508.97 L681,507.58 L682,505.97 L683,504.13 L684,502.04 L685,499.67 L686,496.99 L687,494.01 L688,490.69 L689,487.02 L690,483 L691,478.61 L692,473.86 L693,468.75 L694,463.3 L695,457.51 L696,451.42 L697,445.05 L698,438.46 L699,431.68 L700,424.77 L701,417.8 L702,410.83 L703,403.92 L704,397.17 L705,390.65 L706,384.43 L707,378.6 L708,373.24 L709,368.41 L710,364.18 L711,360.62 L712,357.78 L713,355.69 L714,354.39 L715,353.9 L716,354.23 L717,355.37 L718,357.3 L719,359.99 L720,363.42 L721,367.51 L722,372.23 L723,377.49 L724,383.23 L725,389.38 L726,395.85 L727,402.56 L728,409.44 L729,416.4 L730,423.38 L731,430.31 L732,437.12 L733,443.75 L734,450.17 L735,456.31 L736,462.16 L737,467.69 L738,472.87 L739,477.69 L740,482.15 L741,486.25 L742,489.98 L743,493.37 L744,496.42 L745,499.16 L746,501.59 L747,503.74 L748,505.63 L749,507.28 L750,508.71 L751,509.95 L752,511.01 L753,511.92 L754,512.69 L755,513.34 L756,513.88 L757,514.34 L758,514.71 L759,515.02 L760,515.28 L761,515.49 L762,515.66 L763,515.79 L764,515.9 L765,515.99 L766,516.06 L767,516.11 L768,516.16 L768,516.3 L662,516.3 Z" fill="#c6dbef" fill-opacity="0.8"/>
<path d="M670,516.16 L671,516.13 L672,516.09 L673,516.05 L674,516 L675,515.94 L676,515.87 L677,515.79 L678,515.69 L679,515.58 L680,515.45 L681,515.3 L682,515.12 L683,514.92 L684,514.69 L685,514.43 L686,514.12 L687,513.78 L688,513.39 L689,512.95 L690,512.45 L691,511.89 L692,511.26 L693,510.56 L694,509.78 L695,508.91 L696,507.96 L697,506.9 L698,505.75 L699,504.48 L700,503.1 L701,501.59 L702,499.97 L703,498.21 L704,496.32 L705,494.29 L706,492.13 L707,489.83 L708,487.38 L709,484.81 L710,482.1 L711,479.25 L712,476.29 L713,473.21 L714,470.02 L715,466.74 L716,463.36 L717,459.92 L718,456.43 L719,452.89 L720,449.33 L721,445.77 L722,442.23 L723,438.73 L724,435.29 L725,431.93 L726,428.68 L727,425.56 L728,422.59 L729,419.8 L730,417.2 L731,414.81 L732,412.66 L733,410.75 L734,409.12 L735,407.76 L736,406.69 L737,405.92 L738,405.46 L739,405.3 L740,405.46 L741,405.92 L742,406.69 L743,407.76 L744,409.12 L745,410.75 L746,412.66 L747,414.81 L748,417.2 L749,419.8 L750,422.59 L751,425.56 L752,428.68 L753,431.93 L754,435.29 L755,438.73 L756,442.23 L757,445.77 L758,449.33 L759,452.89 L760,456.43 L761,459.92 L762,463.36 L763,466.74 L764,470.02 L765,473.21 L766,476.29 L767,479.25 L768,482.1 L769,484.81 L770,487.38 L771,489.83 L772,492.13 L773,494.29 L774,496.32 L775,498.21 L776,499.97 L777,501.59 L778,503.1 L779,504.48 L780,505.75 L781,506.9 L782,507.96 L783,508.91 L784,509.78 L785,510.56 L786,511.26 L787,511.89 L788,512.45 L789,512.95 L790,513.39 L791,513.78 L792,514.12 L793,514.43 L794,514.69 L795,514.92 L796,515.12 L797,515.3 L798,515.45 L799,515.58 L800,515.69 L801,515.79 L802,515.87 L803,515.94 L804,516 L805,516.05 L806,516.09 L807,516.13 L808,516.16 L808,516.3 L670,516.3 Z" fill="#ffff66" fill-opacity="0.8"/>
<path d="M683,516.17 L684,516.16 L685,516.13 L686,516.11 L687,516.09 L688,516.06 L689,516.02 L690,515.99 L691,515.95 L692,515.9 L693,515.85 L694,515.79 L695,515.73 L696,515.66 L697,515.58 L698,515.49 L699,515.4 L700,515.29 L701,515.17 L702,515.05 L703,514.91 L704,514.75 L705,514.59 L706,514.4 L707,514.2 L708,513.99 L709,513.75 L710,513.49 L711,513.22 L712,512.92 L713,512.6 L714,512.25 L715,511.87 L716,511.47 L717,511.04 L718,510.59 L719,510.1 L720,509.57 L721,509.02 L722,508.43 L723,507.81 L724,507.15 L725,506.45 L726,505.71 L727,504.94 L728,504.13 L729,503.28 L730,502.39 L731,501.47 L732,500.5 L733,499.5 L734,498.46 L735,497.38 L736,496.27 L737,495.13 L738,493.95 L739,492.74 L740,491.5 L741,490.24 L742,488.95 L743,487.64 L744,486.32 L745,484.98 L746,483.62 L747,482.26 L748,480.89 L749,479.53 L750,478.16 L751,476.81 L752,475.47 L753,474.14 L754,472.84 L755,471.56 L756,470.31 L757,469.1 L758,467.92 L759,466.79 L760,465.71 L761,464.69 L762,463.71 L763,462.8 L764,461.96 L765,461.18 L766,460.48 L767,459.84 L768,459.29 L769,458.82 L770,458.42 L771,458.12 L772,457.89 L773,457.75 L774,457.7 L775,457.74 L776,457.86 L777,458.06 L778,458.36 L779,458.73 L780,459.19 L781,459.73 L782,460.34 L783,461.03 L784,461.8 L785,462.63 L786,463.53 L787,464.49 L788,465.5 L789,466.57 L790,467.69 L791,468.86 L792,470.06 L793,471.31 L794,472.58 L795,473.88 L796,475.2 L797,476.54 L798,477.89 L799,479.25 L800,480.62 L801,481.99 L802,483.35 L803,484.71 L804,486.05 L805,487.38 L806,488.69 L807,489.99 L808,491.25 L809,492.5 L810,493.71 L811,494.89 L812,496.05 L813,497.17 L814,498.25 L815,499.3 L816,500.31 L817,501.28 L818,502.21 L819,503.11 L820,503.96 L821,504.78 L822,505.56 L823,506.3 L824,507.01 L825,507.68 L826,508.31 L827,508.9 L828,509.47 L829,509.99 L830,510.49 L831,510.96 L832,511.39 L833,511.8 L834,512.18 L835,512.53 L836,512.86 L837,513.16 L838,513.44 L839,513.7 L840,513.94 L841,514.16 L842,514.36 L843,514.55 L844,514.72 L845,514.88 L846,515.02 L847,515.15 L848,515.27 L849,515.38 L850,515.47 L851,515.56 L852,515.64 L853,515.71 L854,515.78 L855,515.84 L856,515.89 L857,515.94 L858,515.98 L859,516.02 L860,516.05 L861,516.08 L862,516.11 L863,516.13 L864,516.15 L865,516.17 L865,516.3 L683,516.3 Z" fill="#6baed6" fill-opacity="0.8"/>
<path d="M707,516.18 L708,516.16 L709,516.14 L710,516.12 L711,516.09 L712,516.06 L713,516.03 L714,515.99 L715,515.95 L716,515.9 L717,515.85 L718,515.79 L719,515.72 L720,515.65 L721,515.57 L722,515.47 L723,515.37 L724,515.26 L725,515.13 L726,515 L727,514.84 L728,514.67 L729,514.49 L730,514.29 L731,514.06 L732,513.82 L733,513.56 L734,513.27 L735,512.95 L736,512.61 L737,512.23 L738,511.83 L739,511.39 L740,510.92 L741,510.41 L742,509.86 L743,509.28 L744,508.64 L745,507.97 L746,507.25 L747,506.48 L748,505.65 L749,504.78 L750,503.86 L751,502.87 L752,501.84 L753,500.74 L754,499.59 L755,498.37 L756,497.1 L757,495.76 L758,494.37 L759,492.91 L760,491.39 L761,489.81 L762,488.18 L763,486.48 L764,484.73 L765,482.92 L766,481.06 L767,479.15 L768,477.19 L769,475.19 L770,473.15 L771,471.08 L772,468.97 L773,466.84 L774,464.68 L775,462.51 L776,460.33 L777,458.15 L778,455.96 L779,453.79 L780,451.63 L781,449.49 L782,447.38 L783,445.3 L784,443.27 L785,441.29 L786,439.37 L787,437.52 L788,435.73 L789,434.02 L790,432.4 L791,430.87 L792,429.44 L793,428.11 L794,426.89 L795,425.79 L796,424.8 L797,423.94 L798,423.2 L799,422.59 L800,422.11 L801,421.77 L802,421.57 L803,421.5 L804,421.57 L805,421.77 L806,422.11 L807,422.59 L808,423.2 L809,423.94 L810,424.8 L811,425.79 L812,426.89 L813,428.11 L814,429.44 L815,430.87 L816,432.4 L817,434.02 L818,435.73 L819,437.52 L820,439.37 L821,441.29 L822,443.27 L823,445.3 L824,447.38 L825,449.49 L826,451.63 L827,453.79 L828,455.96 L829,458.15 L830,460.33 L831,462.51 L832,464.68 L833,466.84 L834,468.97 L835,471.08 L836,473.15 L837,475.19 L838,477.19 L839,479.15 L840,481.06 L841,482.92 L842,484.73 L843,486.48 L844,488.18 L845,489.81 L846,491.39 L847,492.91 L848,494.37 L849,495.76 L850,497.1 L851,498.37 L852,499.59 L853,500.74 L854,501.84 L855,502.87 L856,503.86 L857,504.78 L858,505.65 L859,506.48 L860,507.25 L861,507.97 L862,508.64 L863,509.28 L864,509.86 L865,510.41 L866,510.92 L867,511.39 L868,511.83 L869,512.23 L870,512.61 L871,512.95 L872,513.27 L873,513.56 L874,513.82 L875,514.06 L876,514.29 L877,514.49 L878,514.67 L879,514.84 L880,515 L881,515.13 L882,515.26 L883,515.37 L884,515.47 L885,515.57 L886,515.65 L887,515.72 L888,515.79 L889,515.85 L890,515.9 L891,515.95 L892,515.99 L893,516.03 L894,516.06 L895,516.09 L896,516.12 L897,516.14 L898,516.16 L899,516.18 L899,516.3 L707,516.3 Z" fill="#2171b5" fill-opacity="0.8"/>
</g>
<path d="M541.1,516.5 H1012.5" stroke="#3a80bd" stroke-width="1.3" fill="none"/>
<text x="14.9" y="564.4" font-size="28.7" textLength="23.6" lengthAdjust="spacingAndGlyphs">−</text>
<text x="39.4" y="561.5" font-size="28.7" textLength="50" lengthAdjust="spacingAndGlyphs">750</text>
<text x="116.97" y="564.4" font-size="28.7" textLength="23.6" lengthAdjust="spacingAndGlyphs">−</text>
<text x="141.47" y="561.5" font-size="28.7" textLength="50" lengthAdjust="spacingAndGlyphs">700</text>
<text x="219.05" y="564.4" font-size="28.7" textLength="23.6" lengthAdjust="spacingAndGlyphs">−</text>
<text x="243.55" y="561.5" font-size="28.7" textLength="50" lengthAdjust="spacingAndGlyphs">650</text>
<text x="321.12" y="564.4" font-size="28.7" textLength="23.6" lengthAdjust="spacingAndGlyphs">−</text>
<text x="345.62" y="561.5" font-size="28.7" textLength="50" lengthAdjust="spacingAndGlyphs">600</text>
<text x="423.2" y="564.4" font-size="28.7" textLength="23.6" lengthAdjust="spacingAndGlyphs">−</text>
<text x="447.7" y="561.5" font-size="28.7" textLength="50" lengthAdjust="spacingAndGlyphs">550</text>
<text x="578.4" y="561.5" font-size="28.7" textLength="49.6" lengthAdjust="spacingAndGlyphs">550</text>
<text x="680.48" y="561.5" font-size="28.7" textLength="49.6" lengthAdjust="spacingAndGlyphs">600</text>
<text x="782.55" y="561.5" font-size="28.7" textLength="49.6" lengthAdjust="spacingAndGlyphs">650</text>
<text x="884.62" y="561.5" font-size="28.7" textLength="49.6" lengthAdjust="spacingAndGlyphs">700</text>
<text x="986.7" y="561.5" font-size="28.7" textLength="49.6" lengthAdjust="spacingAndGlyphs">750</text>
<text x="364.8" y="606.9" font-size="32.2" textLength="209" lengthAdjust="spacingAndGlyphs">Wavenumber</text>
<text x="592.2" y="606.9" font-size="32.2" textLength="59.8" lengthAdjust="spacingAndGlyphs">(cm</text>
<text x="653.4" y="596.6" font-size="22" textLength="20.2" lengthAdjust="spacingAndGlyphs">−</text>
<text x="672.8" y="594.8" font-size="22" textLength="13.6" lengthAdjust="spacingAndGlyphs">1</text>
<text x="688.2" y="606.9" font-size="32.2" textLength="10.4" lengthAdjust="spacingAndGlyphs">)</text>
<text x="27" y="342.5" font-size="32" textLength="143" lengthAdjust="spacingAndGlyphs" transform="rotate(-90 27 342.5)">Intensity</text>
<g stroke="#000" fill="none">
<path d="M173,56.7 H223" stroke-width="2"/>
<path d="M260.2,56.7 H311" stroke-width="2"/>
<path d="M348,56.7 H397.8" stroke-width="2"/>
<path d="M435.3,56.7 H486" stroke-width="2"/>
<path d="M523,56.7 H573.5" stroke-width="2"/>
<path d="M173,182.7 H582.7" stroke-width="1.6"/>
<path d="M173,231.5 H582.7" stroke-width="1.6"/>
</g>
<path d="M202.2,229.6 V68.7" stroke="#c00000" stroke-width="3.6" fill="none"/>
<path d="M196.5,69.7 L207.9,69.7 L202.2,58.9 Z" fill="#c00000"/>
<path d="M230.3,57 V171.2" stroke="#c00000" stroke-width="3.6" fill="none"/>
<path d="M224.6,170.2 L236,170.2 L230.3,181 Z" fill="#c00000"/>
<path d="M339,231.4 V68.7" stroke="#767171" stroke-width="3.6" fill="none"/>
<path d="M333.3,69.7 L344.7,69.7 L339,58.9 Z" fill="#767171"/>
<path d="M367.5,59 V219.7" stroke="#767171" stroke-width="3.6" fill="none"/>
<path d="M361.8,218.7 L373.2,218.7 L367.5,229.5 Z" fill="#767171"/>
<path d="M481.3,180.8 V68.7" stroke="#4472c4" stroke-width="3.6" fill="none"/>
<path d="M475.6,69.7 L487,69.7 L481.3,58.9 Z" fill="#4472c4"/>
<path d="M505.2,57 V218.3" stroke="#4472c4" stroke-width="3.6" fill="none"/>
<path d="M499.5,217.3 L510.9,217.3 L505.2,228.1 Z" fill="#4472c4"/>
<path d="M230.3,185.7 V228.5" stroke="#000" stroke-width="1.1" fill="none"/>
<path d="M230.3,183.3 L227,189.9 L233.6,189.9 Z" fill="#000"/>
<path d="M230.3,230.9 L227,224.3 L233.6,224.3 Z" fill="#000"/>
<path d="M481.4,185.7 V228.5" stroke="#000" stroke-width="1.1" fill="none"/>
<path d="M481.4,183.3 L478.1,189.9 L484.7,189.9 Z" fill="#000"/>
<path d="M481.4,230.9 L478.1,224.3 L484.7,224.3 Z" fill="#000"/>
<path d="M233.5,143.26 L233.9,142.33 L234.3,141.62 L234.7,141.2 L235.1,141.11 L235.5,141.37 L235.9,141.95 L236.3,142.78 L236.7,143.77 L237.1,144.83 L237.5,145.82 L237.9,146.65 L238.3,147.23 L238.7,147.49 L239.1,147.4 L239.5,146.98 L239.9,146.27 L240.3,145.34 L240.7,144.3 L241.1,143.26 L241.5,142.33 L241.9,141.62 L242.3,141.2 L242.7,141.11 L243.1,141.37 L243.5,141.95 L243.9,142.78 L244.3,143.77 L244.7,144.83 L245.1,145.82 L245.5,146.65 L245.9,147.23 L246.3,147.49 L246.7,147.4 L247.1,146.98 L247.5,146.27 L247.9,145.34 L248.3,144.3 L248.7,143.26 L249.1,142.33 L249.5,141.62 L249.9,141.2 L250.3,141.11 L250.7,141.37 L251.1,141.95 L251.5,142.78 L251.9,143.77 L252.3,144.83 L252.7,145.82 L253.1,146.65 L253.5,147.23 L253.9,147.49 L254.3,147.4 L254.7,146.98 L255.1,146.27 L255.5,145.34 L255.9,144.3 L256.3,143.26 L256.7,142.33 L257.1,141.62 L257.5,141.2 L257.9,141.11 L258.3,141.37 L258.7,141.95 L259.1,142.78 L259.5,143.77 L259.9,144.83 L260.3,145.82 L260.7,146.65 L261.1,147.23 L261.5,147.49 L261.9,147.4 L262.3,146.98 L262.7,146.27 L263.1,145.34 L263.5,144.3 L263.9,143.26 L264.3,142.33 L264.7,141.62 L265.1,141.2 L265.5,141.11 L265.9,141.37 L266.3,141.95 L266.7,142.78 L267.1,143.77 L267.5,144.83 L267.9,145.82 L268.3,146.65 L268.7,147.23 L269.1,147.49 L269.5,147.4 L269.9,146.98 L270.3,146.27 L270.7,145.34 L271.1,144.3 L271.5,143.26 L271.9,142.33 L272.3,141.62 L272.7,141.2 L273.1,141.11 L273.5,141.37 L273.9,141.95 L274.3,142.78 L274.7,143.77 L275.1,144.83 L275.5,145.82 L275.9,146.65 L276.3,147.23 L276.7,147.49 L277.1,147.4 L277.5,146.98 L277.9,146.27 L278.3,145.34" stroke="#000" stroke-width="2.2" fill="none" stroke-linecap="round" stroke-linejoin="round"/>
<path d="M278.1,136.5 L278.1,152.1 L287.5,144.1 Z" fill="#000"/>
<path d="M369.8,143.96 L370.2,143.03 L370.6,142.32 L371,141.9 L371.4,141.81 L371.8,142.07 L372.2,142.65 L372.6,143.48 L373,144.47 L373.4,145.53 L373.8,146.52 L374.2,147.35 L374.6,147.93 L375,148.19 L375.4,148.1 L375.8,147.68 L376.2,146.97 L376.6,146.04 L377,145 L377.4,143.96 L377.8,143.03 L378.2,142.32 L378.6,141.9 L379,141.81 L379.4,142.07 L379.8,142.65 L380.2,143.48 L380.6,144.47 L381,145.53 L381.4,146.52 L381.8,147.35 L382.2,147.93 L382.6,148.19 L383,148.1 L383.4,147.68 L383.8,146.97 L384.2,146.04 L384.6,145 L385,143.96 L385.4,143.03 L385.8,142.32 L386.2,141.9 L386.6,141.81 L387,142.07 L387.4,142.65 L387.8,143.48 L388.2,144.47 L388.6,145.53 L389,146.52 L389.4,147.35 L389.8,147.93 L390.2,148.19 L390.6,148.1 L391,147.68 L391.4,146.97 L391.8,146.04 L392.2,145 L392.6,143.96 L393,143.03 L393.4,142.32 L393.8,141.9 L394.2,141.81 L394.6,142.07 L395,142.65 L395.4,143.48 L395.8,144.47 L396.2,145.53 L396.6,146.52 L397,147.35 L397.4,147.93 L397.8,148.19 L398.2,148.1 L398.6,147.68 L399,146.97 L399.4,146.04 L399.8,145 L400.2,143.96 L400.6,143.03 L401,142.32 L401.4,141.9 L401.8,141.81 L402.2,142.07 L402.6,142.65 L403,143.48 L403.4,144.47 L403.8,145.53 L404.2,146.52 L404.6,147.35 L405,147.93 L405.4,148.19 L405.8,148.1 L406.2,147.68 L406.6,146.97 L407,146.04 L407.4,145 L407.8,143.96 L408.2,143.03 L408.6,142.32 L409,141.9 L409.4,141.81 L409.8,142.07 L410.2,142.65 L410.6,143.48 L411,144.47 L411.4,145.53 L411.8,146.52 L412.2,147.35 L412.6,147.93 L413,148.19 L413.4,148.1 L413.8,147.68 L414.2,146.97 L414.6,146.04" stroke="#000" stroke-width="2.2" fill="none" stroke-linecap="round" stroke-linejoin="round"/>
<path d="M414.4,137.2 L414.4,152.8 L423.8,144.8 Z" fill="#000"/>
<path d="M136.6,211.86 L137,210.93 L137.4,210.22 L137.8,209.8 L138.2,209.71 L138.6,209.97 L139,210.55 L139.4,211.38 L139.8,212.37 L140.2,213.43 L140.6,214.42 L141,215.25 L141.4,215.83 L141.8,216.09 L142.2,216 L142.6,215.58 L143,214.87 L143.4,213.94 L143.8,212.9 L144.2,211.86 L144.6,210.93 L145,210.22 L145.4,209.8 L145.8,209.71 L146.2,209.97 L146.6,210.55 L147,211.38 L147.4,212.37 L147.8,213.43 L148.2,214.42 L148.6,215.25 L149,215.83 L149.4,216.09 L149.8,216 L150.2,215.58 L150.6,214.87 L151,213.94 L151.4,212.9 L151.8,211.86 L152.2,210.93 L152.6,210.22 L153,209.8 L153.4,209.71 L153.8,209.97 L154.2,210.55 L154.6,211.38 L155,212.37 L155.4,213.43 L155.8,214.42 L156.2,215.25 L156.6,215.83 L157,216.09 L157.4,216 L157.8,215.58 L158.2,214.87 L158.6,213.94 L159,212.9 L159.4,211.86 L159.8,210.93 L160.2,210.22 L160.6,209.8 L161,209.71 L161.4,209.97 L161.8,210.55 L162.2,211.38 L162.6,212.37 L163,213.43 L163.4,214.42 L163.8,215.25 L164.2,215.83 L164.6,216.09 L165,216 L165.4,215.58 L165.8,214.87 L166.2,213.94 L166.6,212.9 L167,211.86 L167.4,210.93 L167.8,210.22 L168.2,209.8 L168.6,209.71 L169,209.97 L169.4,210.55 L169.8,211.38 L170.2,212.37 L170.6,213.43 L171,214.42 L171.4,215.25 L171.8,215.83 L172.2,216.09 L172.6,216 L173,215.58 L173.4,214.87 L173.8,213.94 L174.2,212.9 L174.6,211.86 L175,210.93 L175.4,210.22 L175.8,209.8 L176.2,209.71 L176.6,209.97 L177,210.55 L177.4,211.38 L177.8,212.37 L178.2,213.43 L178.6,214.42 L179,215.25 L179.4,215.83 L179.8,216.09 L180.2,216 L180.6,215.58 L181,214.87 L181.4,213.94" stroke="#000" stroke-width="2.2" fill="none" stroke-linecap="round" stroke-linejoin="round"/>
<path d="M181.2,205.1 L181.2,220.7 L190.6,212.7 Z" fill="#000"/>
<path d="M509.6,198.46 L510,197.53 L510.4,196.82 L510.8,196.4 L511.2,196.31 L511.6,196.57 L512,197.15 L512.4,197.98 L512.8,198.97 L513.2,200.03 L513.6,201.02 L514,201.85 L514.4,202.43 L514.8,202.69 L515.2,202.6 L515.6,202.18 L516,201.47 L516.4,200.54 L516.8,199.5 L517.2,198.46 L517.6,197.53 L518,196.82 L518.4,196.4 L518.8,196.31 L519.2,196.57 L519.6,197.15 L520,197.98 L520.4,198.97 L520.8,200.03 L521.2,201.02 L521.6,201.85 L522,202.43 L522.4,202.69 L522.8,202.6 L523.2,202.18 L523.6,201.47 L524,200.54 L524.4,199.5 L524.8,198.46 L525.2,197.53 L525.6,196.82 L526,196.4 L526.4,196.31 L526.8,196.57 L527.2,197.15 L527.6,197.98 L528,198.97 L528.4,200.03 L528.8,201.02 L529.2,201.85 L529.6,202.43 L530,202.69 L530.4,202.6 L530.8,202.18 L531.2,201.47 L531.6,200.54 L532,199.5 L532.4,198.46 L532.8,197.53 L533.2,196.82 L533.6,196.4 L534,196.31 L534.4,196.57 L534.8,197.15 L535.2,197.98 L535.6,198.97 L536,200.03 L536.4,201.02 L536.8,201.85 L537.2,202.43 L537.6,202.69 L538,202.6 L538.4,202.18 L538.8,201.47 L539.2,200.54 L539.6,199.5 L540,198.46 L540.4,197.53 L540.8,196.82 L541.2,196.4 L541.6,196.31 L542,196.57 L542.4,197.15 L542.8,197.98 L543.2,198.97 L543.6,200.03 L544,201.02 L544.4,201.85 L544.8,202.43 L545.2,202.69 L545.6,202.6 L546,202.18 L546.4,201.47 L546.8,200.54 L547.2,199.5 L547.6,198.46 L548,197.53 L548.4,196.82 L548.8,196.4 L549.2,196.31 L549.6,196.57 L550,197.15 L550.4,197.98 L550.8,198.97 L551.2,200.03 L551.6,201.02 L552,201.85 L552.4,202.43 L552.8,202.69 L553.2,202.6 L553.6,202.18 L554,201.47 L554.4,200.54" stroke="#000" stroke-width="2.2" fill="none" stroke-linecap="round" stroke-linejoin="round"/>
<path d="M554.2,191.7 L554.2,207.3 L563.6,199.3 Z" fill="#000"/>
<text x="73.3" y="49.4" font-size="26.4" textLength="89" lengthAdjust="spacingAndGlyphs">Virtual</text>
<text x="81.6" y="78.5" font-size="26.4" textLength="61.6" lengthAdjust="spacingAndGlyphs">state</text>
<text x="66" y="171.9" font-size="26.4" textLength="94" lengthAdjust="spacingAndGlyphs">Excited</text>
<text x="74.6" y="201.9" font-size="26.4" textLength="62" lengthAdjust="spacingAndGlyphs">state</text>
<text x="64" y="239.5" font-size="26.4" textLength="94" lengthAdjust="spacingAndGlyphs">Ground</text>
<text x="82.4" y="269.5" font-size="26.4" textLength="61.6" lengthAdjust="spacingAndGlyphs">state</text>
<text x="193.6" y="42.2" font-size="25.4" fill="#c00000" textLength="79" lengthAdjust="spacingAndGlyphs">Stokes</text>
<text x="306.4" y="42.2" font-size="25.4" fill="#767171" textLength="107.5" lengthAdjust="spacingAndGlyphs">Rayleigh</text>
<text x="441.2" y="42.4" font-size="25.4" fill="#4472c4" textLength="141.6" lengthAdjust="spacingAndGlyphs">Anti-Stokes</text>
<text x="631" y="48.6" font-size="26.8" textLength="80" lengthAdjust="spacingAndGlyphs">Stokes</text>
<text x="353.4" y="300.3" font-size="26.8" textLength="141.8" lengthAdjust="spacingAndGlyphs">Anti-Stokes</text>
<text x="157.3" y="114.1" font-size="25" font-style="italic" textLength="28.8" lengthAdjust="spacingAndGlyphs">hν</text>
<text x="186" y="119.9" font-size="16.5" textLength="9.4" lengthAdjust="spacingAndGlyphs">0</text>
<text x="235.8" y="114.1" font-size="25" font-style="italic" textLength="28.8" lengthAdjust="spacingAndGlyphs">hν</text>
<text x="266.2" y="119.9" font-size="16.5" textLength="7" lengthAdjust="spacingAndGlyphs">1</text>
<text x="435.7" y="113.8" font-size="25" font-style="italic" textLength="28.8" lengthAdjust="spacingAndGlyphs">hν</text>
<text x="464.4" y="119.6" font-size="16.5" textLength="9.4" lengthAdjust="spacingAndGlyphs">0</text>
<text x="511.1" y="113.6" font-size="25" font-style="italic" textLength="28.8" lengthAdjust="spacingAndGlyphs">hν</text>
<text x="539.8" y="119.4" font-size="16.5" textLength="9.4" lengthAdjust="spacingAndGlyphs">2</text>
<text x="236" y="215.2" font-size="25" font-style="italic" textLength="28.8" lengthAdjust="spacingAndGlyphs">hν</text>
<text x="264.7" y="221" font-size="16.5" textLength="9.4" lengthAdjust="spacingAndGlyphs">0</text>
<text x="274.4" y="217.2" font-size="24" textLength="22.2" lengthAdjust="spacingAndGlyphs">−</text>
<text x="298" y="215.2" font-size="25" font-style="italic" textLength="28.8" lengthAdjust="spacingAndGlyphs">hν</text>
<text x="328.4" y="221" font-size="16.5" textLength="7" lengthAdjust="spacingAndGlyphs">1</text>
<text x="379.2" y="215.2" font-size="25" font-style="italic" textLength="28.8" lengthAdjust="spacingAndGlyphs">hν</text>
<text x="407.9" y="221" font-size="16.5" textLength="9.4" lengthAdjust="spacingAndGlyphs">2</text>
<text x="417.4" y="217.2" font-size="24" textLength="22.2" lengthAdjust="spacingAndGlyphs">−</text>
<text x="441.2" y="215.2" font-size="25" font-style="italic" textLength="28.8" lengthAdjust="spacingAndGlyphs">hν</text>
<text x="469.9" y="221" font-size="16.5" textLength="9.4" lengthAdjust="spacingAndGlyphs">0</text>
<text x="154.2" y="201.4" font-size="25" font-style="italic" textLength="13.8" lengthAdjust="spacingAndGlyphs">ν</text>
<text x="168" y="207.6" font-size="16.5" textLength="8.6" lengthAdjust="spacingAndGlyphs">0</text>
<text x="246.7" y="164.8" font-size="25" font-style="italic" textLength="13.8" lengthAdjust="spacingAndGlyphs">ν</text>
<text x="260.5" y="171" font-size="16.5" textLength="7.2" lengthAdjust="spacingAndGlyphs">s</text>
<text x="384.3" y="166.4" font-size="25" font-style="italic" textLength="13.8" lengthAdjust="spacingAndGlyphs">ν</text>
<text x="398.1" y="172.6" font-size="16.5" textLength="8.6" lengthAdjust="spacingAndGlyphs">0</text>
<text x="525.4" y="218.3" font-size="25" font-style="italic" textLength="13.8" lengthAdjust="spacingAndGlyphs">ν</text>
<text x="539.2" y="224.5" font-size="16.5" textLength="16.5" lengthAdjust="spacingAndGlyphs">as</text>
<text x="742" y="31.4" font-size="26.8" textLength="27.2" lengthAdjust="spacingAndGlyphs">Al</text>
<text x="771" y="37.3" font-size="17.5" textLength="35.6" lengthAdjust="spacingAndGlyphs">0.86</text>
<text x="808" y="31.4" font-size="26.8" textLength="33.2" lengthAdjust="spacingAndGlyphs">Ga</text>
<text x="842.4" y="37.3" font-size="17.5" textLength="35.6" lengthAdjust="spacingAndGlyphs">0.14</text>
<text x="879" y="31.4" font-size="26.8" textLength="19.8" lengthAdjust="spacingAndGlyphs">N</text>
<text x="910.5" y="31.4" font-size="26.8" textLength="52" lengthAdjust="spacingAndGlyphs">(823</text>
<text x="974.2" y="31.4" font-size="26.8" textLength="29.6" lengthAdjust="spacingAndGlyphs">K)</text>
<path d="M958.6,147.1 L904.12,74.88" stroke="#70ad47" stroke-width="4" fill="none"/>
<path d="M909.12,72.37 L900.34,78.99 L897.5,66.1 Z" fill="#70ad47"/>
<path d="M958.6,147.1 L969.65,236.58" stroke="#70ad47" stroke-width="4" fill="none"/>
<path d="M964.07,236.26 L974.99,234.92 L971,247.5 Z" fill="#70ad47"/>
<path d="M733.6,147.1 L947.6,147.1" stroke="#767171" stroke-width="4" fill="none"/>
<path d="M946.6,152.6 L946.6,141.6 L958.6,147.1 Z" fill="#767171"/>
<path d="M733.6,147.1 L960.87,243.22" stroke="#4472c4" stroke-width="4" fill="none"/>
<path d="M957.81,247.89 L962.09,237.76 L971,247.5 Z" fill="#4472c4"/>
<path d="M733.6,147.1 L887.64,70.97" stroke="#c00000" stroke-width="4" fill="none"/>
<path d="M889.18,76.35 L884.31,66.49 L897.5,66.1 Z" fill="#c00000"/>
<path d="M748.6,139.6 Q755.2,141.6 755.9,147.4" stroke="#000" stroke-width="2.1" fill="none"/>
<path d="M768.2,147.6 Q774.6,155.6 768.4,164.0" stroke="#000" stroke-width="2.1" fill="none"/>
<text x="715.6" y="142.6" font-size="16.6" fill="#c00000" textLength="203.5" lengthAdjust="spacingAndGlyphs" transform="rotate(-26.3 715.6 142.6)">Stokes scattering photon</text>
<text x="726" y="167" font-size="16.6" fill="#4472c4" textLength="243.6" lengthAdjust="spacingAndGlyphs" transform="rotate(22.92 726 167)">Anti-stokes scattering photon</text>
<text x="804.5" y="164.3" font-size="16.6" fill="#44546a" textLength="142" lengthAdjust="spacingAndGlyphs">Incidence photon</text>
<text x="921.5" y="84" font-size="16.6" fill="#70ad47" textLength="57" lengthAdjust="spacingAndGlyphs" transform="rotate(53 921.5 84)">Photon</text>
<text x="969.5" y="165" font-size="16.6" fill="#70ad47" textLength="59" lengthAdjust="spacingAndGlyphs" transform="rotate(83 969.5 165)">Photon</text>
<text x="821.4" y="117.9" font-size="18.5" font-style="italic" textLength="9.6" lengthAdjust="spacingAndGlyphs">k</text>
<text x="831.2" y="121.5" font-size="11.5" textLength="7.2" lengthAdjust="spacingAndGlyphs">S</text>
<text x="854.2" y="141" font-size="18.5" font-style="italic" textLength="9.6" lengthAdjust="spacingAndGlyphs">k</text>
<text x="864" y="144.6" font-size="11.5" textLength="7.6" lengthAdjust="spacingAndGlyphs">L</text>
<text x="866.6" y="200" font-size="18.5" font-style="italic" textLength="9.6" lengthAdjust="spacingAndGlyphs">k</text>
<text x="876.4" y="203.6" font-size="11.5" textLength="17" lengthAdjust="spacingAndGlyphs">AS</text>
<text x="912.6" y="114.3" font-size="18.5" font-style="italic" textLength="9.4" lengthAdjust="spacingAndGlyphs">q</text>
<text x="948.4" y="201.8" font-size="18.5" font-style="italic" textLength="9.4" lengthAdjust="spacingAndGlyphs">q</text>
<text x="957.6" y="196" font-size="13" textLength="3.4" lengthAdjust="spacingAndGlyphs">′</text>
<text x="769.6" y="142.9" font-size="17.5" font-style="italic" textLength="8.6" lengthAdjust="spacingAndGlyphs">θ</text>
<text x="778" y="162.5" font-size="17.5" font-style="italic" textLength="8.6" lengthAdjust="spacingAndGlyphs">θ</text>
<rect x="883.4" y="304.3" width="42.8" height="20.6" fill="#2171b5" fill-opacity="0.8" stroke="#3a3a3a" stroke-opacity="0.75" stroke-width="0.8"/>
<text x="930.4" y="321.4" font-size="20.6" textLength="13.6" lengthAdjust="spacingAndGlyphs">E</text>
<text x="944.3" y="325.6" font-size="13.5" textLength="6.6" lengthAdjust="spacingAndGlyphs">1</text>
<text x="951.6" y="321.4" font-size="20.6" textLength="46" lengthAdjust="spacingAndGlyphs">(TO)</text>
<rect x="883.4" y="332.9" width="42.8" height="20.6" fill="#6baed6" fill-opacity="0.8" stroke="#3a3a3a" stroke-opacity="0.75" stroke-width="0.8"/>
<text x="930.4" y="348.9" font-size="20.6" textLength="13.6" lengthAdjust="spacingAndGlyphs">E</text>
<text x="944.3" y="353.1" font-size="13.5" textLength="6.6" lengthAdjust="spacingAndGlyphs">2</text>
<text x="951.6" y="348.9" font-size="20.6" textLength="55.6" lengthAdjust="spacingAndGlyphs">(high)</text>
<rect x="883.4" y="360.7" width="42.8" height="20.6" fill="#ffff66" fill-opacity="0.8" stroke="#3a3a3a" stroke-opacity="0.75" stroke-width="0.8"/>
<text x="930.4" y="378.2" font-size="20.6" textLength="44.4" lengthAdjust="spacingAndGlyphs">LVM</text>
<rect x="883.4" y="385.4" width="42.8" height="20.6" fill="#c6dbef" fill-opacity="0.8" stroke="#3a3a3a" stroke-opacity="0.75" stroke-width="0.8"/>
<text x="930.4" y="403.6" font-size="20.6" textLength="14.6" lengthAdjust="spacingAndGlyphs">A</text>
<text x="945.3" y="407.8" font-size="13.5" textLength="6.6" lengthAdjust="spacingAndGlyphs">1</text>
<text x="952.6" y="403.6" font-size="20.6" textLength="46" lengthAdjust="spacingAndGlyphs">(TO)</text>
<rect x="883.4" y="413.9" width="42.8" height="20.6" fill="#cb181d" fill-opacity="0.8" stroke="#3a3a3a" stroke-opacity="0.75" stroke-width="0.8"/>
<text x="930.4" y="431.8" font-size="20.6" textLength="13.6" lengthAdjust="spacingAndGlyphs">E</text>
<text x="944.3" y="436" font-size="13.5" textLength="6.6" lengthAdjust="spacingAndGlyphs">2</text>
<text x="951.6" y="431.8" font-size="20.6" textLength="55.6" lengthAdjust="spacingAndGlyphs">(high)</text>
<rect x="883.4" y="441.8" width="42.8" height="20.6" fill="#fc9272" fill-opacity="0.8" stroke="#3a3a3a" stroke-opacity="0.75" stroke-width="0.8"/>
<text x="930.4" y="459.6" font-size="20.6" textLength="13.6" lengthAdjust="spacingAndGlyphs">E</text>
<text x="944.3" y="463.8" font-size="13.5" textLength="6.6" lengthAdjust="spacingAndGlyphs">1</text>
<text x="951.6" y="459.6" font-size="20.6" textLength="46" lengthAdjust="spacingAndGlyphs">(TO)</text>
<rect x="883.4" y="470.4" width="42.8" height="20.6" fill="#fee0d2" fill-opacity="0.8" stroke="#3a3a3a" stroke-opacity="0.75" stroke-width="0.8"/>
<text x="930.4" y="487.5" font-size="20.6" textLength="14.6" lengthAdjust="spacingAndGlyphs">A</text>
<text x="945.3" y="491.7" font-size="13.5" textLength="6.6" lengthAdjust="spacingAndGlyphs">1</text>
<text x="952.6" y="487.5" font-size="20.6" textLength="46" lengthAdjust="spacingAndGlyphs">(TO)</text>
</svg>
</body></html>
